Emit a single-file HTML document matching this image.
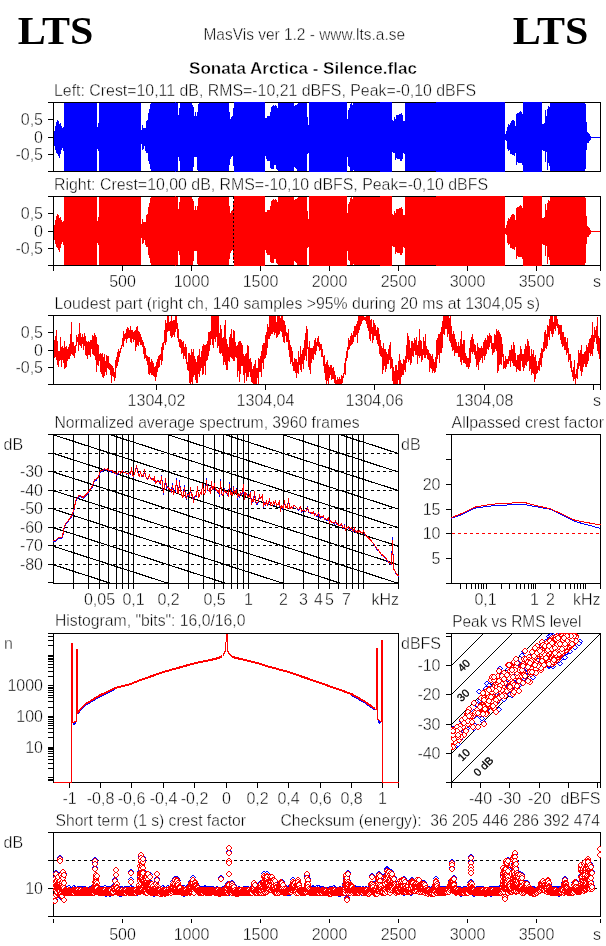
<!DOCTYPE html>
<html lang="en">
<head>
<meta charset="utf-8">
<title>MasVis ver 1.2 - Sonata Arctica - Silence.flac</title>
<style>
html,body{margin:0;padding:0;background:#fff;}
body{width:606px;height:946px;overflow:hidden;}
svg{display:block;font-family:"Liberation Sans",sans-serif;font-size:16px;fill:#000;}
svg text{white-space:pre;stroke:#fff;stroke-width:0.4px;paint-order:fill stroke;}
svg text.k{stroke:none;}
svg text.r{stroke:#000;stroke-width:0.3px;}
</style>
</head>
<body>
<svg width="606" height="946" viewBox="0 0 606 946" shape-rendering="crispEdges">
<rect x="0" y="0" width="606" height="946" fill="#fff"/>
<text x="17.8" y="44" font-size="41" font-weight="bold" font-family='"Liberation Serif", serif' textLength="75.5" lengthAdjust="spacingAndGlyphs" class="k">LTS</text>
<text x="512.8" y="44" font-size="41" font-weight="bold" font-family='"Liberation Serif", serif' textLength="75.5" lengthAdjust="spacingAndGlyphs" class="k">LTS</text>
<text x="203.5" y="40" textLength="201.5" lengthAdjust="spacingAndGlyphs">MasVis ver 1.2 - www.lts.a.se</text>
<text x="189" y="74" font-size="17" font-weight="bold" textLength="228" lengthAdjust="spacingAndGlyphs">Sonata Arctica - Silence.flac</text>
<g id="left-channel">
<text x="54" y="96" textLength="422" lengthAdjust="spacingAndGlyphs">Left: Crest=10,11 dB, RMS=-10,21 dBFS, Peak=-0,10 dBFS</text>
<g id="axes102">
<rect x="53" y="102" width="548" height="1" fill="#000"/>
<rect x="53" y="171" width="548" height="1" fill="#000"/>
<rect x="53" y="102" width="1" height="70" fill="#000"/>
<rect x="600" y="102" width="1" height="70" fill="#000"/>
<rect x="48" y="102" width="5" height="1" fill="#000"/>
<rect x="48" y="119" width="5" height="1" fill="#000"/>
<rect x="48" y="137" width="5" height="1" fill="#000"/>
<rect x="48" y="154" width="5" height="1" fill="#000"/>
<rect x="48" y="171" width="5" height="1" fill="#000"/>
<text x="43" y="125" text-anchor="end">0,5</text>
<text x="43" y="143" text-anchor="end">0</text>
<text x="43" y="160" text-anchor="end">-0,5</text>
</g>
<path d="M54 131h1v15h-1zM55 126h1v24h-1zM56 122h1v31h-1zM57 120h1v34h-1zM58 121h1v35h-1zM59 124h1v34h-1zM60 123h1v31h-1zM61 126h1v24h-1zM62 128h1v20h-1zM63 127h1v24h-1zM64 103h33v68h-33zM97 127h1v22h-1zM98 123h1v28h-1zM99 103h42v68h-42zM141 130h1v14h-1zM142 125h1v25h-1zM143 128h1v21h-1zM144 128h1v18h-1zM145 128h1v23h-1zM146 121h1v32h-1zM147 120h1v33h-1zM148 113h1v48h-1zM149 109h1v55h-1zM150 104h1v65h-1zM151 103h24v68h-24zM175 102h1v70h-1zM176 103h2v68h-2zM178 115h1v42h-1zM179 108h1v53h-1zM180 103h12v68h-12zM192 105h1v66h-1zM193 107h1v60h-1zM194 116h1v41h-1zM195 112h1v45h-1zM196 116h1v41h-1zM197 112h1v58h-1zM198 104h1v67h-1zM199 103h30v68h-30zM229 112h1v53h-1zM230 119h1v40h-1zM231 117h1v40h-1zM232 116h1v40h-1zM233 108h1v58h-1zM234 102h31v70h-31zM265 118h1v38h-1zM266 118h1v41h-1zM267 116h3v45h-3zM270 112h1v56h-1zM271 107h1v62h-1zM272 106h1v63h-1zM273 105h1v64h-1zM274 106h1v59h-1zM275 105h1v60h-1zM276 106h1v63h-1zM277 108h1v62h-1zM278 103h16v68h-16zM294 106h1v61h-1zM295 105h1v63h-1zM296 105h1v64h-1zM297 104h1v67h-1zM298 103h9v68h-9zM307 117h1v37h-1zM308 125h1v28h-1zM309 102h38v70h-38zM347 119h1v38h-1zM348 110h1v56h-1zM349 108h1v59h-1zM350 104h1v67h-1zM351 103h1v68h-1zM352 105h1v66h-1zM353 103h1v67h-1zM354 103h26v68h-26zM380 102h12v70h-12zM392 120h1v32h-1zM393 121h1v32h-1zM394 117h1v36h-1zM395 119h1v41h-1zM396 115h1v43h-1zM397 115h2v44h-2zM399 114h1v45h-1zM400 114h1v47h-1zM401 113h1v48h-1zM402 115h1v44h-1zM403 121h1v32h-1zM404 121h1v33h-1zM405 103h31v68h-31zM436 102h69v70h-69zM505 134h1v6h-1zM506 131h1v10h-1zM507 127h1v22h-1zM508 124h1v27h-1zM509 125h1v25h-1zM510 123h1v31h-1zM511 121h1v33h-1zM512 120h2v35h-2zM514 121h1v35h-1zM515 126h1v27h-1zM516 114h1v51h-1zM517 113h1v49h-1zM518 113h1v50h-1zM519 112h1v51h-1zM520 111h1v52h-1zM521 112h1v51h-1zM522 114h1v51h-1zM523 102h19v70h-19zM542 124h1v26h-1zM543 124h1v27h-1zM544 123h1v28h-1zM545 110h1v52h-1zM546 116h1v36h-1zM547 109h1v61h-1zM548 106h1v57h-1zM549 107h1v59h-1zM550 103h35v68h-35zM585 104h1v65h-1zM586 122h1v28h-1zM587 132h1v11h-1zM588 133h1v10h-1zM589 134h1v7h-1zM590 136h1v4h-1zM591 137h9v1h-9z" fill="#0000ff"/>
</g>
<g id="right-channel">
<text x="54" y="190" textLength="434" lengthAdjust="spacingAndGlyphs">Right: Crest=10,00 dB, RMS=-10,10 dBFS, Peak=-0,10 dBFS</text>
<g id="axes196">
<rect x="53" y="196" width="548" height="1" fill="#000"/>
<rect x="53" y="265" width="548" height="1" fill="#000"/>
<rect x="53" y="196" width="1" height="70" fill="#000"/>
<rect x="600" y="196" width="1" height="70" fill="#000"/>
<rect x="48" y="196" width="5" height="1" fill="#000"/>
<rect x="48" y="213" width="5" height="1" fill="#000"/>
<rect x="48" y="231" width="5" height="1" fill="#000"/>
<rect x="48" y="248" width="5" height="1" fill="#000"/>
<rect x="48" y="265" width="5" height="1" fill="#000"/>
<text x="43" y="219" text-anchor="end">0,5</text>
<text x="43" y="237" text-anchor="end">0</text>
<text x="43" y="254" text-anchor="end">-0,5</text>
</g>
<path d="M54 225h1v15h-1zM55 220h1v24h-1zM56 216h1v31h-1zM57 214h1v34h-1zM58 215h1v35h-1zM59 218h1v34h-1zM60 217h1v31h-1zM61 220h1v24h-1zM62 222h1v20h-1zM63 221h1v24h-1zM64 197h33v68h-33zM97 221h1v22h-1zM98 217h1v28h-1zM99 197h42v68h-42zM141 224h1v14h-1zM142 219h1v25h-1zM143 222h1v21h-1zM144 222h1v18h-1zM145 222h1v23h-1zM146 215h1v32h-1zM147 214h1v33h-1zM148 207h1v48h-1zM149 203h1v55h-1zM150 198h1v65h-1zM151 197h24v68h-24zM175 196h1v70h-1zM176 197h2v68h-2zM178 209h1v42h-1zM179 202h1v53h-1zM180 197h12v68h-12zM192 199h1v66h-1zM193 201h1v60h-1zM194 210h1v41h-1zM195 206h1v45h-1zM196 210h1v41h-1zM197 206h1v58h-1zM198 198h1v67h-1zM199 197h30v68h-30zM229 206h1v53h-1zM230 213h1v40h-1zM231 211h1v40h-1zM232 210h1v40h-1zM233 202h1v58h-1zM234 196h31v70h-31zM265 212h1v38h-1zM266 212h1v41h-1zM267 210h3v45h-3zM270 206h1v56h-1zM271 201h1v62h-1zM272 200h1v63h-1zM273 199h1v64h-1zM274 200h1v59h-1zM275 199h1v60h-1zM276 200h1v63h-1zM277 202h1v62h-1zM278 197h16v68h-16zM294 200h1v61h-1zM295 199h1v63h-1zM296 199h1v64h-1zM297 198h1v67h-1zM298 197h9v68h-9zM307 211h1v37h-1zM308 219h1v28h-1zM309 196h38v70h-38zM347 213h1v38h-1zM348 204h1v56h-1zM349 202h1v59h-1zM350 198h1v67h-1zM351 197h1v68h-1zM352 199h1v66h-1zM353 197h1v67h-1zM354 197h26v68h-26zM380 196h12v70h-12zM392 214h1v32h-1zM393 215h1v32h-1zM394 211h1v36h-1zM395 213h1v41h-1zM396 209h1v43h-1zM397 209h2v44h-2zM399 208h1v45h-1zM400 208h1v47h-1zM401 207h1v48h-1zM402 209h1v44h-1zM403 215h1v32h-1zM404 215h1v33h-1zM405 197h31v68h-31zM436 196h69v70h-69zM505 228h1v6h-1zM506 225h1v10h-1zM507 221h1v22h-1zM508 218h1v27h-1zM509 219h1v25h-1zM510 217h1v31h-1zM511 215h1v33h-1zM512 214h2v35h-2zM514 215h1v35h-1zM515 220h1v27h-1zM516 208h1v51h-1zM517 207h1v49h-1zM518 207h1v50h-1zM519 206h1v51h-1zM520 205h1v52h-1zM521 206h1v51h-1zM522 208h1v51h-1zM523 196h19v70h-19zM542 218h1v26h-1zM543 218h1v27h-1zM544 217h1v28h-1zM545 204h1v52h-1zM546 210h1v36h-1zM547 203h1v61h-1zM548 200h1v57h-1zM549 201h1v59h-1zM550 197h35v68h-35zM585 198h1v65h-1zM586 216h1v28h-1zM587 226h1v11h-1zM588 227h1v10h-1zM589 228h1v7h-1zM590 230h1v4h-1zM591 231h9v1h-9z" fill="#ff0000"/>
<path d="M233.5 197V265" stroke="#000" stroke-width="1" stroke-dasharray="2 2" fill="none"/>
<rect x="53" y="266" width="1" height="5" fill="#000"/>
<rect x="122" y="266" width="1" height="5" fill="#000"/>
<text x="122.5" y="287" text-anchor="middle">500</text>
<rect x="191" y="266" width="1" height="5" fill="#000"/>
<text x="191.5" y="287" text-anchor="middle">1000</text>
<rect x="260" y="266" width="1" height="5" fill="#000"/>
<text x="260.5" y="287" text-anchor="middle">1500</text>
<rect x="329" y="266" width="1" height="5" fill="#000"/>
<text x="329.5" y="287" text-anchor="middle">2000</text>
<rect x="398" y="266" width="1" height="5" fill="#000"/>
<text x="398.5" y="287" text-anchor="middle">2500</text>
<rect x="467" y="266" width="1" height="5" fill="#000"/>
<text x="467.5" y="287" text-anchor="middle">3000</text>
<rect x="536" y="266" width="1" height="5" fill="#000"/>
<text x="536.5" y="287" text-anchor="middle">3500</text>
<rect x="600" y="266" width="1" height="5" fill="#000"/>
<text x="601" y="287" text-anchor="end">s</text>
</g>
<g id="loudest-part">
<text x="54.5" y="308.7" textLength="485.5" lengthAdjust="spacingAndGlyphs">Loudest part (right ch, 140 samples &gt;95% during 20 ms at 1304,05 s)</text>
<rect x="53" y="315" width="548" height="1" fill="#000"/>
<rect x="53" y="384" width="548" height="1" fill="#000"/>
<rect x="53" y="315" width="1" height="70" fill="#000"/>
<rect x="600" y="315" width="1" height="70" fill="#000"/>
<rect x="48" y="315" width="5" height="1" fill="#000"/>
<rect x="48" y="332" width="5" height="1" fill="#000"/>
<rect x="48" y="350" width="5" height="1" fill="#000"/>
<rect x="48" y="367" width="5" height="1" fill="#000"/>
<rect x="48" y="384" width="5" height="1" fill="#000"/>
<text x="43" y="338" text-anchor="end">0,5</text>
<text x="43" y="356" text-anchor="end">0</text>
<text x="43" y="373" text-anchor="end">-0,5</text>
<rect x="156" y="385" width="1" height="5" fill="#000"/>
<text x="156.5" y="406" text-anchor="middle">1304,02</text>
<rect x="265" y="385" width="1" height="5" fill="#000"/>
<text x="265.5" y="406" text-anchor="middle">1304,04</text>
<rect x="374" y="385" width="1" height="5" fill="#000"/>
<text x="374.5" y="406" text-anchor="middle">1304,06</text>
<rect x="484" y="385" width="1" height="5" fill="#000"/>
<text x="484.5" y="406" text-anchor="middle">1304,08</text>
<rect x="593" y="385" width="1" height="5" fill="#000"/>
<rect x="600" y="385" width="1" height="5" fill="#000"/>
<text x="601" y="406" text-anchor="end">s</text>
<path d="M54 340v18h1v-18zM55 336v21h1v-21zM56 330v30h1v-30zM57 341v24h1v-24zM58 351v16h1v-16zM59 351v10h1v-10zM60 337v23h1v-23zM61 347v20h1v-20zM62 346v14h1v-14zM63 348v15h1v-15zM64 341v28h1v-28zM65 347v21h1v-21zM66 346v21h1v-21zM67 349v12h1v-12zM68 347v12h1v-12zM69 344v15h1v-15zM70 334v22h1v-22zM71 322v32h1v-32zM72 342v13h1v-13zM73 342v14h1v-14zM74 346v12h1v-12zM75 345v8h1v-8zM76 335v11h1v-11zM77 337v5h1v-5zM78 334v17h1v-17zM79 323v22h1v-22zM80 333v13h1v-13zM81 337v11h1v-11zM82 334v10h1v-10zM83 337v13h1v-13zM84 333v13h1v-13zM85 336v19h1v-19zM86 341v15h1v-15zM87 342v17h1v-17zM88 341v14h1v-14zM89 342v13h1v-13zM90 340v17h1v-17zM91 340v9h1v-9zM92 335v19h1v-19zM93 336v19h1v-19zM94 333v23h1v-23zM95 335v25h1v-25zM96 337v35h1v-35zM97 344v21h1v-21zM98 345v21h1v-21zM99 354v7h1v-7zM100 353v19h1v-19zM101 354v20h1v-20zM102 353v24h1v-24zM103 357v21h1v-21zM104 354v22h1v-22zM105 361v11h1v-11zM106 355v20h1v-20zM107 356v12h1v-12zM108 356v13h1v-13zM109 363v7h1v-7zM110 364v11h1v-11zM111 365v18h1v-18zM112 366v10h1v-10zM113 368v9h1v-9zM114 372v9h1v-9zM115 360v18h1v-18zM116 357v11h1v-11zM117 352v14h1v-14zM118 349v13h1v-13zM119 351v6h1v-6zM120 348v5h1v-5zM121 345v4h1v-4zM122 338v8h1v-8zM123 331v16h1v-16zM124 334v7h1v-7zM125 333v6h1v-6zM126 329v14h1v-14zM127 327v12h1v-12zM128 328v10h1v-10zM129 330v8h1v-8zM130 326v16h1v-16zM131 330v13h1v-13zM132 330v9h1v-9zM133 332v10h1v-10zM134 331v9h1v-9zM135 330v21h1v-21zM136 327v20h1v-20zM137 326v19h1v-19zM138 331v15h1v-15zM139 332v10h1v-10zM140 334v11h1v-11zM141 337v8h1v-8zM142 340v7h1v-7zM143 342v12h1v-12zM144 346v13h1v-13zM145 348v10h1v-10zM146 355v6h1v-6zM147 356v9h1v-9zM148 357v17h1v-17zM149 357v18h1v-18zM150 362v11h1v-11zM151 359v16h1v-16zM152 361v14h1v-14zM153 363v13h1v-13zM154 367v10h1v-10zM155 366v15h1v-15zM156 362v15h1v-15zM157 359v13h1v-13zM158 356v12h1v-12zM159 355v12h1v-12zM160 354v6h1v-6zM161 347v18h1v-18zM162 343v18h1v-18zM163 342v8h1v-8zM164 330v13h1v-13zM165 320v25h1v-25zM166 323v19h1v-19zM167 316v16h1v-16zM168 316v15h1v-15zM169 322v9h1v-9zM170 321v15h1v-15zM171 316v22h1v-22zM172 321v16h1v-16zM173 320v15h1v-15zM174 320v17h1v-17zM175 316v16h1v-16zM176 316v13h1v-13zM177 323v15h1v-15zM178 329v13h1v-13zM179 339v8h1v-8zM180 339v9h1v-9zM181 340v14h1v-14zM182 342v11h1v-11zM183 341v18h1v-18zM184 347v9h1v-9zM185 344v15h1v-15zM186 347v17h1v-17zM187 362v8h1v-8zM188 353v18h1v-18zM189 353v30h1v-30zM190 355v29h1v-29zM191 349v33h1v-33zM192 352v32h1v-32zM193 349v28h1v-28zM194 356v19h1v-19zM195 359v21h1v-21zM196 362v21h1v-21zM197 356v27h1v-27zM198 355v19h1v-19zM199 349v28h1v-28zM200 357v14h1v-14zM201 351v17h1v-17zM202 346v29h1v-29zM203 344v30h1v-30zM204 345v21h1v-21zM205 345v30h1v-30zM206 344v17h1v-17zM207 341v19h1v-19zM208 332v24h1v-24zM209 332v19h1v-19zM210 331v14h1v-14zM211 316v23h1v-23zM212 316v29h1v-29zM213 316v32h1v-32zM214 316v23h1v-23zM215 316v26h1v-26zM216 316v21h1v-21zM217 316v32h1v-32zM218 316v30h1v-30zM219 333v20h1v-20zM220 325v29h1v-29zM221 329v24h1v-24zM222 338v18h1v-18zM223 337v28h1v-28zM224 325v37h1v-37zM225 320v45h1v-45zM226 339v31h1v-31zM227 344v26h1v-26zM228 347v14h1v-14zM229 337v25h1v-25zM230 334v23h1v-23zM231 329v29h1v-29zM232 338v21h1v-21zM233 330v31h1v-31zM234 331v30h1v-30zM235 342v15h1v-15zM236 346v12h1v-12zM237 345v32h1v-32zM238 342v29h1v-29zM239 341v41h1v-41zM240 341v33h1v-33zM241 343v23h1v-23zM242 345v21h1v-21zM243 354v21h1v-21zM244 356v27h1v-27zM245 354v19h1v-19zM246 353v28h1v-28zM247 345v32h1v-32zM248 346v31h1v-31zM249 359v13h1v-13zM250 358v19h1v-19zM251 362v20h1v-20zM252 369v14h1v-14zM253 366v18h1v-18zM254 364v20h1v-20zM255 360v24h1v-24zM256 368v16h1v-16zM257 368v10h1v-10zM258 358v26h1v-26zM259 359v13h1v-13zM260 356v16h1v-16zM261 351v26h1v-26zM262 345v18h1v-18zM263 343v26h1v-26zM264 343v16h1v-16zM265 335v23h1v-23zM266 332v23h1v-23zM267 324v24h1v-24zM268 327v12h1v-12zM269 316v23h1v-23zM270 316v20h1v-20zM271 316v18h1v-18zM272 316v18h1v-18zM273 316v16h1v-16zM274 316v19h1v-19zM275 316v17h1v-17zM276 322v16h1v-16zM277 316v21h1v-21zM278 316v19h1v-19zM279 316v18h1v-18zM280 318v13h1v-13zM281 316v16h1v-16zM282 316v21h1v-21zM283 320v22h1v-22zM284 321v22h1v-22zM285 325v11h1v-11zM286 332v10h1v-10zM287 333v9h1v-9zM288 329v21h1v-21zM289 340v17h1v-17zM290 345v19h1v-19zM291 347v15h1v-15zM292 351v15h1v-15zM293 362v9h1v-9zM294 358v13h1v-13zM295 359v14h1v-14zM296 359v19h1v-19zM297 362v11h1v-11zM298 351v23h1v-23zM299 357v8h1v-8zM300 346v24h1v-24zM301 354v18h1v-18zM302 350v14h1v-14zM303 348v21h1v-21zM304 340v20h1v-20zM305 333v23h1v-23zM306 326v35h1v-35zM307 329v20h1v-20zM308 347v20h1v-20zM309 341v29h1v-29zM310 348v26h1v-26zM311 348v15h1v-15zM312 348v11h1v-11zM313 346v14h1v-14zM314 340v14h1v-14zM315 338v17h1v-17zM316 342v9h1v-9zM317 338v8h1v-8zM318 336v11h1v-11zM319 342v9h1v-9zM320 344v6h1v-6zM321 344v13h1v-13zM322 349v8h1v-8zM323 356v10h1v-10zM324 355v18h1v-18zM325 364v16h1v-16zM326 362v22h1v-22zM327 360v21h1v-21zM328 365v19h1v-19zM329 367v11h1v-11zM330 365v10h1v-10zM331 365v15h1v-15zM332 368v11h1v-11zM333 367v12h1v-12zM334 371v12h1v-12zM335 375v9h1v-9zM336 380v4h1v-4zM337 377v7h1v-7zM338 379v5h1v-5zM339 377v7h1v-7zM340 379v5h1v-5zM341 375v9h1v-9zM342 376v7h1v-7zM343 373v5h1v-5zM344 363v11h1v-11zM345 358v17h1v-17zM346 351v10h1v-10zM347 347v11h1v-11zM348 338v12h1v-12zM349 340v9h1v-9zM350 336v10h1v-10zM351 333v12h1v-12zM352 335v9h1v-9zM353 331v11h1v-11zM354 326v11h1v-11zM355 326v11h1v-11zM356 324v11h1v-11zM357 321v22h1v-22zM358 316v17h1v-17zM359 316v14h1v-14zM360 316v10h1v-10zM361 316v8h1v-8zM362 316v5h1v-5zM363 316v4h1v-4zM364 317v3h1v-3zM365 317v4h1v-4zM366 316v8h1v-8zM367 316v12h1v-12zM368 316v15h1v-15zM369 316v23h1v-23zM370 320v21h1v-21zM371 319v15h1v-15zM372 327v16h1v-16zM373 320v20h1v-20zM374 323v13h1v-13zM375 325v11h1v-11zM376 330v10h1v-10zM377 327v17h1v-17zM378 328v18h1v-18zM379 334v20h1v-20zM380 340v16h1v-16zM381 346v11h1v-11zM382 348v26h1v-26zM383 343v27h1v-27zM384 349v17h1v-17zM385 349v23h1v-23zM386 352v17h1v-17zM387 354v10h1v-10zM388 349v15h1v-15zM389 345v15h1v-15zM390 342v27h1v-27zM391 357v11h1v-11zM392 359v22h1v-22zM393 367v17h1v-17zM394 371v13h1v-13zM395 365v19h1v-19zM396 365v19h1v-19zM397 370v14h1v-14zM398 361v19h1v-19zM399 354v30h1v-30zM400 360v24h1v-24zM401 363v14h1v-14zM402 364v11h1v-11zM403 359v16h1v-16zM404 360v10h1v-10zM405 356v16h1v-16zM406 345v18h1v-18zM407 333v26h1v-26zM408 336v26h1v-26zM409 340v20h1v-20zM410 348v17h1v-17zM411 341v22h1v-22zM412 341v15h1v-15zM413 343v14h1v-14zM414 338v13h1v-13zM415 340v15h1v-15zM416 337v18h1v-18zM417 345v19h1v-19zM418 341v15h1v-15zM419 329v29h1v-29zM420 340v16h1v-16zM421 341v21h1v-21zM422 349v11h1v-11zM423 337v18h1v-18zM424 341v17h1v-17zM425 334v24h1v-24zM426 346v9h1v-9zM427 349v10h1v-10zM428 350v10h1v-10zM429 353v19h1v-19zM430 354v14h1v-14zM431 356v13h1v-13zM432 354v19h1v-19zM433 359v12h1v-12zM434 362v11h1v-11zM435 357v15h1v-15zM436 340v28h1v-28zM437 338v21h1v-21zM438 334v21h1v-21zM439 334v29h1v-29zM440 332v21h1v-21zM441 327v26h1v-26zM442 321v27h1v-27zM443 316v18h1v-18zM444 316v19h1v-19zM445 316v13h1v-13zM446 316v13h1v-13zM447 316v21h1v-21zM448 316v18h1v-18zM449 318v23h1v-23zM450 316v27h1v-27zM451 326v21h1v-21zM452 334v17h1v-17zM453 331v19h1v-19zM454 334v22h1v-22zM455 339v14h1v-14zM456 342v11h1v-11zM457 346v7h1v-7zM458 342v15h1v-15zM459 346v11h1v-11zM460 339v23h1v-23zM461 331v34h1v-34zM462 344v16h1v-16zM463 340v23h1v-23zM464 340v23h1v-23zM465 353v11h1v-11zM466 356v11h1v-11zM467 358v9h1v-9zM468 358v11h1v-11zM469 348v19h1v-19zM470 340v23h1v-23zM471 337v15h1v-15zM472 334v20h1v-20zM473 339v13h1v-13zM474 344v11h1v-11zM475 345v14h1v-14zM476 351v16h1v-16zM477 343v22h1v-22zM478 347v23h1v-23zM479 348v14h1v-14zM480 348v12h1v-12zM481 346v12h1v-12zM482 348v15h1v-15zM483 342v14h1v-14zM484 340v20h1v-20zM485 338v18h1v-18zM486 340v14h1v-14zM487 335v14h1v-14zM488 336v14h1v-14zM489 333v14h1v-14zM490 335v8h1v-8zM491 336v13h1v-13zM492 343v12h1v-12zM493 343v10h1v-10zM494 334v18h1v-18zM495 335v14h1v-14zM496 329v22h1v-22zM497 331v42h1v-42zM498 330v41h1v-41zM499 332v33h1v-33zM500 334v30h1v-30zM501 337v28h1v-28zM502 344v13h1v-13zM503 354v15h1v-15zM504 361v7h1v-7zM505 356v13h1v-13zM506 359v8h1v-8zM507 359v5h1v-5zM508 356v8h1v-8zM509 350v11h1v-11zM510 350v17h1v-17zM511 345v16h1v-16zM512 349v14h1v-14zM513 342v24h1v-24zM514 345v21h1v-21zM515 353v14h1v-14zM516 360v12h1v-12zM517 355v14h1v-14zM518 355v15h1v-15zM519 354v17h1v-17zM520 346v25h1v-25zM521 349v12h1v-12zM522 354v13h1v-13zM523 354v17h1v-17zM524 349v19h1v-19zM525 344v21h1v-21zM526 346v20h1v-20zM527 339v23h1v-23zM528 341v20h1v-20zM529 346v25h1v-25zM530 356v13h1v-13zM531 349v26h1v-26zM532 354v19h1v-19zM533 350v24h1v-24zM534 357v25h1v-25zM535 355v24h1v-24zM536 361v13h1v-13zM537 366v7h1v-7zM538 361v9h1v-9zM539 358v13h1v-13zM540 353v12h1v-12zM541 348v19h1v-19zM542 349v9h1v-9zM543 342v10h1v-10zM544 332v19h1v-19zM545 330v18h1v-18zM546 334v15h1v-15zM547 325v21h1v-21zM548 326v11h1v-11zM549 319v21h1v-21zM550 316v15h1v-15zM551 316v18h1v-18zM552 316v21h1v-21zM553 322v12h1v-12zM554 316v13h1v-13zM555 316v15h1v-15zM556 316v10h1v-10zM557 319v9h1v-9zM558 324v11h1v-11zM559 325v9h1v-9zM560 325v15h1v-15zM561 325v19h1v-19zM562 332v15h1v-15zM563 332v14h1v-14zM564 337v13h1v-13zM565 337v13h1v-13zM566 342v13h1v-13zM567 338v15h1v-15zM568 348v14h1v-14zM569 354v6h1v-6zM570 354v14h1v-14zM571 361v11h1v-11zM572 370v7h1v-7zM573 367v14h1v-14zM574 360v19h1v-19zM575 374v10h1v-10zM576 369v9h1v-9zM577 363v16h1v-16zM578 350v19h1v-19zM579 353v13h1v-13zM580 350v21h1v-21zM581 345v31h1v-31zM582 354v18h1v-18zM583 354v13h1v-13zM584 352v12h1v-12zM585 351v16h1v-16zM586 345v22h1v-22zM587 347v17h1v-17zM588 343v18h1v-18zM589 339v14h1v-14zM590 338v18h1v-18zM591 335v19h1v-19zM592 322v34h1v-34zM593 335v14h1v-14zM594 327v15h1v-15zM595 330v8h1v-8zM596 326v18h1v-18zM597 317v34h1v-34zM598 336v18h1v-18zM599 338v21h1v-21z" fill="#ff0000"/>
</g>
<g id="spectrum">
<text x="54.5" y="427.5" textLength="305" lengthAdjust="spacingAndGlyphs">Normalized average spectrum, 3960 frames</text>
<text x="3.5" y="450">dB</text>
<clipPath id="c4a"><rect x="53" y="434" width="346" height="150"/></clipPath>
<g clip-path="url(#c4a)" stroke="#000" stroke-width="1" fill="none">
<path d="M53.5 286.40L398.5 397.80M53.5 304.97L398.5 416.37M53.5 323.53L398.5 434.93M53.5 342.09L398.5 453.49M53.5 360.65L398.5 472.05M53.5 379.21L398.5 490.61M53.5 397.78L398.5 509.18M53.5 416.34L398.5 527.74M53.5 434.90L398.5 546.30M53.5 453.46L398.5 564.86M53.5 472.02L398.5 583.42M53.5 490.59L398.5 601.99M53.5 509.15L398.5 620.55M53.5 527.71L398.5 639.11M53.5 546.27L398.5 657.67M53.5 564.83L398.5 676.23M53.5 583.40L398.5 694.80" stroke-width="1.15"/>
<path d="M53 453.5H398M53 471.5H398M53 490.5H398M53 508.5H398M53 527.5H398M53 545.5H398M53 564.5H398" stroke-dasharray="3 3"/>
</g>
<rect x="73" y="434" width="1" height="155" fill="#000"/>
<rect x="88" y="434" width="1" height="155" fill="#000"/>
<rect x="99" y="434" width="1" height="155" fill="#000"/>
<rect x="108" y="434" width="1" height="155" fill="#000"/>
<rect x="116" y="434" width="1" height="155" fill="#000"/>
<rect x="122" y="434" width="1" height="155" fill="#000"/>
<rect x="128" y="434" width="1" height="155" fill="#000"/>
<rect x="133" y="434" width="1" height="155" fill="#000"/>
<rect x="168" y="434" width="1" height="155" fill="#000"/>
<rect x="188" y="434" width="1" height="155" fill="#000"/>
<rect x="203" y="434" width="1" height="155" fill="#000"/>
<rect x="214" y="434" width="1" height="155" fill="#000"/>
<rect x="223" y="434" width="1" height="155" fill="#000"/>
<rect x="231" y="434" width="1" height="155" fill="#000"/>
<rect x="237" y="434" width="1" height="155" fill="#000"/>
<rect x="243" y="434" width="1" height="155" fill="#000"/>
<rect x="248" y="434" width="1" height="155" fill="#000"/>
<rect x="283" y="434" width="1" height="155" fill="#000"/>
<rect x="303" y="434" width="1" height="155" fill="#000"/>
<rect x="318" y="434" width="1" height="155" fill="#000"/>
<rect x="329" y="434" width="1" height="155" fill="#000"/>
<rect x="338" y="434" width="1" height="155" fill="#000"/>
<rect x="346" y="434" width="1" height="155" fill="#000"/>
<rect x="352" y="434" width="1" height="155" fill="#000"/>
<rect x="358" y="434" width="1" height="155" fill="#000"/>
<rect x="363" y="434" width="1" height="155" fill="#000"/>
<rect x="53" y="434" width="346" height="1" fill="#000"/>
<rect x="53" y="583" width="346" height="1" fill="#000"/>
<rect x="53" y="434" width="1" height="150" fill="#000"/>
<rect x="398" y="434" width="1" height="150" fill="#000"/>
<rect x="398" y="583" width="1" height="6" fill="#000"/>
<rect x="48" y="434" width="5" height="1" fill="#000"/>
<rect x="48" y="453" width="5" height="1" fill="#000"/>
<rect x="48" y="471" width="5" height="1" fill="#000"/>
<rect x="48" y="490" width="5" height="1" fill="#000"/>
<rect x="48" y="508" width="5" height="1" fill="#000"/>
<rect x="48" y="527" width="5" height="1" fill="#000"/>
<rect x="48" y="545" width="5" height="1" fill="#000"/>
<rect x="48" y="564" width="5" height="1" fill="#000"/>
<rect x="48" y="582" width="5" height="1" fill="#000"/>
<text x="43" y="477" text-anchor="end">-30</text>
<text x="43" y="496" text-anchor="end">-40</text>
<text x="43" y="514" text-anchor="end">-50</text>
<text x="43" y="533" text-anchor="end">-60</text>
<text x="43" y="551" text-anchor="end">-70</text>
<text x="43" y="570" text-anchor="end">-80</text>
<text x="99.5" y="605" text-anchor="middle">0,05</text>
<text x="133.5" y="605" text-anchor="middle">0,1</text>
<text x="168.5" y="605" text-anchor="middle">0,2</text>
<text x="214.5" y="605" text-anchor="middle">0,5</text>
<text x="248.5" y="605" text-anchor="middle">1</text>
<text x="283.5" y="605" text-anchor="middle">2</text>
<text x="303.5" y="605" text-anchor="middle">3</text>
<text x="318.5" y="605" text-anchor="middle">4</text>
<text x="329.5" y="605" text-anchor="middle">5</text>
<text x="346.5" y="605" text-anchor="middle">7</text>
<text x="399" y="605" text-anchor="end">kHz</text>
<g clip-path="url(#c4a)" fill="none" stroke-width="1" stroke-linejoin="round">
<path d="M53.5 541.8L54.5 541.5L55.5 541.2L56.5 540.5L57.5 539.2L58.5 538.6L59.5 538.9L60.5 538.8L61.5 538.4L62.5 537.3L63.5 531.9L64.5 526.9L65.5 525.4L66.5 523.1L67.5 522.4L68.5 520.9L69.5 519.6L70.5 517.9L71.5 516.8L72.5 515.0L73.5 511.9L74.5 507.7L75.5 503.0L76.5 498.6L77.5 498.4L78.5 497.1L79.5 495.7L80.5 496.6L81.5 497.1L82.5 497.7L83.5 498.4L84.5 496.7L85.5 496.1L86.5 494.8L87.5 494.3L88.5 492.9L89.5 491.2L90.5 489.5L91.5 488.3L92.5 486.6L93.5 483.4L94.5 480.9L95.5 481.0L96.5 479.7L97.5 478.6L98.5 477.8L99.5 474.5L100.5 471.2L101.5 471.1L102.5 471.2L103.5 469.9L104.5 469.8L105.5 469.3L106.5 470.4L107.5 469.2L108.5 471.3L109.5 470.7L110.5 471.6L111.5 472.3L112.5 470.9L113.5 472.0L114.5 473.2L115.5 472.4L116.5 475.5L117.5 474.2L118.5 472.7L119.5 471.5L120.5 472.8L121.5 471.7L122.5 470.6L123.5 472.1L124.5 472.7L125.5 472.2L126.5 474.1L127.5 473.6L128.5 473.8L129.5 472.3L130.5 474.5L131.5 467.8L132.5 475.2L133.5 477.4L134.5 473.3L135.5 471.2L136.5 467.0L137.5 469.8L138.5 473.6L139.5 476.9L140.5 471.7L141.5 476.4L142.5 476.6L143.5 476.0L144.5 471.1L145.5 476.4L146.5 477.9L147.5 479.0L148.5 476.8L149.5 475.9L150.5 478.4L151.5 479.0L152.5 479.2L153.5 480.8L154.5 480.0L155.5 483.7L156.5 482.2L157.5 480.2L158.5 480.8L159.5 482.9L160.5 484.8L161.5 475.6L162.5 484.3L163.5 494.3L164.5 486.7L165.5 482.6L166.5 488.1L167.5 486.5L168.5 488.2L169.5 488.8L170.5 491.3L171.5 491.6L172.5 483.2L173.5 493.3L174.5 492.5L175.5 490.8L176.5 478.7L177.5 491.5L178.5 493.3L179.5 481.0L180.5 490.1L181.5 493.4L182.5 497.1L183.5 493.9L184.5 485.2L185.5 496.1L186.5 499.5L187.5 493.9L188.5 495.6L189.5 495.3L190.5 491.4L191.5 494.3L192.5 495.8L193.5 499.0L194.5 497.4L195.5 496.2L196.5 496.6L197.5 487.1L198.5 496.7L199.5 495.7L200.5 492.5L201.5 494.0L202.5 483.4L203.5 492.7L204.5 493.8L205.5 492.0L206.5 478.1L207.5 490.1L208.5 490.7L209.5 490.3L210.5 492.0L211.5 482.2L212.5 489.1L213.5 489.2L214.5 483.3L215.5 490.3L216.5 489.5L217.5 492.2L218.5 490.6L219.5 496.3L220.5 479.4L221.5 493.0L222.5 496.0L223.5 493.2L224.5 488.5L225.5 492.9L226.5 492.7L227.5 495.2L228.5 496.8L229.5 482.3L230.5 494.0L231.5 493.2L232.5 495.7L233.5 486.4L234.5 493.9L235.5 491.7L236.5 488.7L237.5 499.2L238.5 494.2L239.5 497.1L240.5 492.8L241.5 494.1L242.5 492.7L243.5 488.8L244.5 498.7L245.5 493.4L246.5 494.0L247.5 494.8L248.5 496.6L249.5 496.9L250.5 491.6L251.5 504.2L252.5 501.3L253.5 500.1L254.5 494.8L255.5 500.5L256.5 504.3L257.5 504.5L258.5 501.8L259.5 496.9L260.5 498.6L261.5 497.2L262.5 495.7L263.5 507.1L264.5 502.6L265.5 505.5L266.5 500.5L267.5 506.0L268.5 503.5L269.5 500.3L270.5 505.2L271.5 502.1L272.5 505.5L273.5 502.2L274.5 505.2L275.5 501.2L276.5 504.9L277.5 504.5L278.5 504.6L279.5 503.3L280.5 511.3L281.5 505.8L282.5 509.4L283.5 507.7L284.5 502.7L285.5 506.9L286.5 506.8L287.5 508.4L288.5 500.7L289.5 506.4L290.5 508.0L291.5 506.5L292.5 508.7L293.5 506.6L294.5 505.7L295.5 506.6L296.5 507.1L297.5 508.7L298.5 510.4L299.5 508.9L300.5 506.2L301.5 512.3L302.5 511.0L303.5 510.8L304.5 511.5L305.5 511.1L306.5 510.8L307.5 506.8L308.5 512.6L309.5 512.6L310.5 513.3L311.5 513.1L312.5 512.7L313.5 512.5L314.5 514.2L315.5 513.8L316.5 516.7L317.5 515.9L318.5 514.4L319.5 516.4L320.5 518.4L321.5 517.1L322.5 517.8L323.5 517.1L324.5 519.6L325.5 519.1L326.5 520.5L327.5 520.1L328.5 517.3L329.5 523.3L330.5 520.1L331.5 522.3L332.5 522.1L333.5 523.2L334.5 524.4L335.5 521.8L336.5 524.5L337.5 523.9L338.5 525.7L339.5 525.8L340.5 525.7L341.5 523.8L342.5 527.6L343.5 528.6L344.5 524.9L345.5 530.9L346.5 527.9L347.5 527.4L348.5 528.0L349.5 529.6L350.5 529.4L351.5 527.7L352.5 531.2L353.5 531.9L354.5 528.4L355.5 532.6L356.5 531.8L357.5 531.0L358.5 532.7L359.5 531.0L360.5 532.4L361.5 532.2L362.5 533.8L363.5 530.7L364.5 533.6L365.5 535.7L366.5 536.4L367.5 537.4L368.5 538.0L369.5 539.7L370.5 539.9L371.5 541.4L372.5 542.8L373.5 543.4L374.5 545.7L375.5 546.5L376.5 548.9L377.5 550.0L378.5 550.4L379.5 552.3L380.5 552.9L381.5 555.2L382.5 555.1L383.5 556.5L384.5 557.3L385.5 557.9L386.5 559.9L387.5 560.8L388.5 562.8L389.5 562.6L390.5 564.3L391.5 564.5L392.5 538.0L393.5 568.9L394.5 570.1L395.5 572.3L396.5 574.6L397.5 575.1L398.5 576.7" stroke="#0000ff"/>
<path d="M53.5 540.9L54.5 540.8L55.5 540.4L56.5 539.4L57.5 538.6L58.5 537.9L59.5 538.0L60.5 537.7L61.5 537.5L62.5 536.4L63.5 530.9L64.5 526.1L65.5 524.4L66.5 522.3L67.5 521.6L68.5 520.0L69.5 518.7L70.5 517.2L71.5 516.0L72.5 513.9L73.5 511.0L74.5 507.0L75.5 502.2L76.5 498.2L77.5 497.7L78.5 496.2L79.5 495.2L80.5 495.8L81.5 496.1L82.5 497.1L83.5 497.5L84.5 495.8L85.5 495.1L86.5 493.8L87.5 493.3L88.5 491.9L89.5 490.4L90.5 488.5L91.5 487.5L92.5 485.7L93.5 482.5L94.5 480.0L95.5 479.8L96.5 478.8L97.5 478.2L98.5 477.0L99.5 473.9L100.5 470.8L101.5 470.8L102.5 470.9L103.5 469.6L104.5 468.8L105.5 469.6L106.5 469.5L107.5 468.8L108.5 469.9L109.5 470.6L110.5 470.4L111.5 470.9L112.5 470.7L113.5 472.0L114.5 472.5L115.5 472.8L116.5 474.5L117.5 473.7L118.5 471.9L119.5 471.5L120.5 473.0L121.5 471.9L122.5 470.9L123.5 472.4L124.5 472.1L125.5 472.5L126.5 473.7L127.5 473.8L128.5 474.1L129.5 472.2L130.5 473.9L131.5 467.9L132.5 474.8L133.5 476.1L134.5 473.9L135.5 470.6L136.5 465.5L137.5 470.7L138.5 474.7L139.5 476.4L140.5 471.7L141.5 476.4L142.5 475.3L143.5 476.3L144.5 469.5L145.5 475.8L146.5 478.0L147.5 479.9L148.5 477.8L149.5 474.4L150.5 478.7L151.5 479.4L152.5 478.9L153.5 480.1L154.5 476.9L155.5 483.9L156.5 481.5L157.5 481.0L158.5 481.4L159.5 482.0L160.5 483.7L161.5 476.4L162.5 485.4L163.5 492.4L164.5 487.4L165.5 478.9L166.5 486.3L167.5 487.7L168.5 487.9L169.5 488.9L170.5 489.7L171.5 492.2L172.5 485.4L173.5 494.4L174.5 491.6L175.5 490.5L176.5 480.4L177.5 491.8L178.5 493.4L179.5 482.8L180.5 490.4L181.5 492.9L182.5 497.9L183.5 495.1L184.5 487.4L185.5 496.1L186.5 498.5L187.5 494.2L188.5 494.4L189.5 496.2L190.5 487.4L191.5 495.7L192.5 495.0L193.5 502.3L194.5 496.6L195.5 495.3L196.5 495.4L197.5 486.4L198.5 498.0L199.5 495.7L200.5 492.7L201.5 494.3L202.5 483.6L203.5 492.1L204.5 494.9L205.5 492.0L206.5 481.0L207.5 489.3L208.5 490.7L209.5 489.0L210.5 494.0L211.5 481.8L212.5 489.2L213.5 488.7L214.5 483.9L215.5 489.5L216.5 489.9L217.5 491.3L218.5 490.1L219.5 494.7L220.5 481.4L221.5 492.2L222.5 495.4L223.5 493.6L224.5 490.0L225.5 492.9L226.5 491.7L227.5 494.3L228.5 496.3L229.5 484.3L230.5 494.3L231.5 493.0L232.5 495.7L233.5 488.0L234.5 494.2L235.5 491.7L236.5 489.2L237.5 498.0L238.5 493.3L239.5 496.0L240.5 492.6L241.5 495.2L242.5 492.7L243.5 484.1L244.5 499.1L245.5 492.4L246.5 494.6L247.5 495.6L248.5 497.1L249.5 496.2L250.5 493.0L251.5 504.6L252.5 499.7L253.5 501.4L254.5 491.5L255.5 500.0L256.5 503.9L257.5 502.4L258.5 501.8L259.5 494.8L260.5 498.7L261.5 497.3L262.5 494.2L263.5 506.6L264.5 503.2L265.5 504.2L266.5 501.0L267.5 505.8L268.5 502.7L269.5 498.9L270.5 505.3L271.5 502.5L272.5 505.7L273.5 501.9L274.5 504.4L275.5 500.4L276.5 505.6L277.5 504.4L278.5 504.1L279.5 500.8L280.5 511.5L281.5 505.2L282.5 507.3L283.5 508.0L284.5 500.7L285.5 507.7L286.5 507.0L287.5 508.9L288.5 498.1L289.5 508.0L290.5 508.2L291.5 506.6L292.5 508.9L293.5 505.5L294.5 505.6L295.5 507.0L296.5 507.1L297.5 508.5L298.5 509.6L299.5 508.2L300.5 506.5L301.5 511.6L302.5 510.6L303.5 510.6L304.5 510.9L305.5 511.1L306.5 510.8L307.5 507.4L308.5 511.2L309.5 512.3L310.5 512.1L311.5 513.1L312.5 513.1L313.5 511.6L314.5 515.6L315.5 514.0L316.5 515.9L317.5 515.8L318.5 512.1L319.5 515.2L320.5 517.7L321.5 516.3L322.5 516.6L323.5 515.7L324.5 519.4L325.5 518.3L326.5 519.8L327.5 519.6L328.5 517.5L329.5 523.9L330.5 520.4L331.5 522.0L332.5 522.2L333.5 522.5L334.5 523.5L335.5 520.9L336.5 523.7L337.5 523.4L338.5 525.4L339.5 525.3L340.5 525.0L341.5 523.6L342.5 526.9L343.5 527.9L344.5 525.8L345.5 530.1L346.5 527.1L347.5 527.1L348.5 526.7L349.5 529.6L350.5 528.5L351.5 527.2L352.5 530.1L353.5 531.5L354.5 527.6L355.5 531.4L356.5 532.1L357.5 530.8L358.5 532.0L359.5 530.4L360.5 532.4L361.5 532.4L362.5 533.3L363.5 530.5L364.5 533.4L365.5 535.3L366.5 536.2L367.5 537.1L368.5 537.5L369.5 539.3L370.5 539.9L371.5 541.1L372.5 542.5L373.5 543.4L374.5 545.0L375.5 546.4L376.5 547.9L377.5 549.4L378.5 549.9L379.5 552.4L380.5 552.9L381.5 554.7L382.5 554.6L383.5 556.1L384.5 556.6L385.5 557.6L386.5 559.5L387.5 560.2L388.5 562.0L389.5 562.3L390.5 563.6L391.5 564.6L392.5 541.0L393.5 568.8L394.5 570.0L395.5 571.9L396.5 574.4L397.5 574.7L398.5 576.3" stroke="#ff0000"/>
</g>
</g>
<g id="allpass">
<text x="451.5" y="427.5" textLength="152.5" lengthAdjust="spacingAndGlyphs">Allpassed crest factor</text>
<text x="401" y="450">dB</text>
<rect x="451" y="434" width="150" height="1" fill="#000"/>
<rect x="451" y="583" width="150" height="1" fill="#000"/>
<rect x="451" y="434" width="1" height="150" fill="#000"/>
<rect x="600" y="434" width="1" height="150" fill="#000"/>
<rect x="446" y="558" width="5" height="1" fill="#000"/>
<rect x="446" y="533" width="5" height="1" fill="#000"/>
<rect x="446" y="509" width="5" height="1" fill="#000"/>
<rect x="446" y="484" width="5" height="1" fill="#000"/>
<rect x="446" y="459" width="5" height="1" fill="#000"/>
<rect x="446" y="434" width="5" height="1" fill="#000"/>
<rect x="446" y="583" width="5" height="1" fill="#000"/>
<text x="440.5" y="564" text-anchor="end">5</text>
<text x="440.5" y="539" text-anchor="end">10</text>
<text x="440.5" y="515" text-anchor="end">15</text>
<text x="440.5" y="490" text-anchor="end">20</text>
<rect x="460" y="584" width="1" height="5" fill="#000"/>
<rect x="466" y="584" width="1" height="5" fill="#000"/>
<rect x="471" y="584" width="1" height="5" fill="#000"/>
<rect x="475" y="584" width="1" height="5" fill="#000"/>
<rect x="478" y="584" width="1" height="5" fill="#000"/>
<rect x="481" y="584" width="1" height="5" fill="#000"/>
<rect x="483" y="584" width="1" height="5" fill="#000"/>
<rect x="486" y="584" width="1" height="5" fill="#000"/>
<rect x="501" y="584" width="1" height="5" fill="#000"/>
<rect x="509" y="584" width="1" height="5" fill="#000"/>
<rect x="516" y="584" width="1" height="5" fill="#000"/>
<rect x="520" y="584" width="1" height="5" fill="#000"/>
<rect x="524" y="584" width="1" height="5" fill="#000"/>
<rect x="528" y="584" width="1" height="5" fill="#000"/>
<rect x="531" y="584" width="1" height="5" fill="#000"/>
<rect x="533" y="584" width="1" height="5" fill="#000"/>
<rect x="535" y="584" width="1" height="5" fill="#000"/>
<rect x="550" y="584" width="1" height="5" fill="#000"/>
<rect x="559" y="584" width="1" height="5" fill="#000"/>
<rect x="565" y="584" width="1" height="5" fill="#000"/>
<rect x="570" y="584" width="1" height="5" fill="#000"/>
<rect x="574" y="584" width="1" height="5" fill="#000"/>
<rect x="577" y="584" width="1" height="5" fill="#000"/>
<rect x="580" y="584" width="1" height="5" fill="#000"/>
<rect x="583" y="584" width="1" height="5" fill="#000"/>
<rect x="585" y="584" width="1" height="5" fill="#000"/>
<rect x="600" y="584" width="1" height="5" fill="#000"/>
<text x="485.5" y="605" text-anchor="middle">0,1</text>
<text x="534.5" y="605" text-anchor="middle">1</text>
<text x="550.5" y="605" text-anchor="middle">2</text>
<text x="600.5" y="605" text-anchor="end">kHz</text>
<path d="M452 533.5H600" stroke="#ff0000" stroke-width="1" stroke-dasharray="3 3" fill="none"/>
<path d="M451.4 518.3L460.1 515.2L475.7 507.9L493.0 505.8L510.4 504.8L524.2 504.5L534.6 506.5L550.9 509.3L562.3 514.9L574.5 521.4L586.6 524.6L600.5 528.4" stroke="#0000ff" stroke-width="1" fill="none"/>
<path d="M451.4 517.6L460.1 514.2L475.7 506.9L493.0 504.1L510.4 503.1L524.2 502.4L534.6 505.1L550.9 509.0L562.3 514.2L574.5 520.0L586.6 522.5L600.5 524.9" stroke="#ff0000" stroke-width="1" fill="none"/>
</g>
<g id="histogram">
<text x="55" y="626" textLength="190.5" lengthAdjust="spacingAndGlyphs">Histogram, "bits": 16,0/16,0</text>
<text x="4" y="649">n</text>
<rect x="53" y="633" width="346" height="1" fill="#000"/>
<rect x="53" y="782" width="346" height="1" fill="#000"/>
<rect x="53" y="633" width="1" height="150" fill="#000"/>
<rect x="398" y="633" width="1" height="150" fill="#000"/>
<rect x="48" y="780" width="5" height="1" fill="#000"/>
<rect x="48" y="779" width="5" height="1" fill="#000"/>
<rect x="48" y="777" width="5" height="1" fill="#000"/>
<rect x="48" y="768" width="5" height="1" fill="#000"/>
<rect x="48" y="763" width="5" height="1" fill="#000"/>
<rect x="48" y="759" width="5" height="1" fill="#000"/>
<rect x="48" y="756" width="5" height="1" fill="#000"/>
<rect x="48" y="753" width="5" height="1" fill="#000"/>
<rect x="48" y="751" width="5" height="1" fill="#000"/>
<rect x="48" y="749" width="5" height="1" fill="#000"/>
<rect x="48" y="748" width="5" height="1" fill="#000"/>
<rect x="48" y="747" width="5" height="1" fill="#000"/>
<rect x="48" y="737" width="5" height="1" fill="#000"/>
<rect x="48" y="732" width="5" height="1" fill="#000"/>
<rect x="48" y="728" width="5" height="1" fill="#000"/>
<rect x="48" y="725" width="5" height="1" fill="#000"/>
<rect x="48" y="723" width="5" height="1" fill="#000"/>
<rect x="48" y="721" width="5" height="1" fill="#000"/>
<rect x="48" y="719" width="5" height="1" fill="#000"/>
<rect x="48" y="717" width="5" height="1" fill="#000"/>
<rect x="48" y="716" width="5" height="1" fill="#000"/>
<rect x="48" y="707" width="5" height="1" fill="#000"/>
<rect x="48" y="701" width="5" height="1" fill="#000"/>
<rect x="48" y="697" width="5" height="1" fill="#000"/>
<rect x="48" y="695" width="5" height="1" fill="#000"/>
<rect x="48" y="692" width="5" height="1" fill="#000"/>
<rect x="48" y="690" width="5" height="1" fill="#000"/>
<rect x="48" y="688" width="5" height="1" fill="#000"/>
<rect x="48" y="687" width="5" height="1" fill="#000"/>
<rect x="48" y="685" width="5" height="1" fill="#000"/>
<rect x="48" y="676" width="5" height="1" fill="#000"/>
<rect x="48" y="671" width="5" height="1" fill="#000"/>
<rect x="48" y="667" width="5" height="1" fill="#000"/>
<rect x="48" y="664" width="5" height="1" fill="#000"/>
<rect x="48" y="661" width="5" height="1" fill="#000"/>
<rect x="48" y="659" width="5" height="1" fill="#000"/>
<rect x="48" y="658" width="5" height="1" fill="#000"/>
<rect x="48" y="656" width="5" height="1" fill="#000"/>
<rect x="48" y="655" width="5" height="1" fill="#000"/>
<rect x="48" y="645" width="5" height="1" fill="#000"/>
<rect x="48" y="640" width="5" height="1" fill="#000"/>
<rect x="48" y="636" width="5" height="1" fill="#000"/>
<rect x="48" y="633" width="5" height="1" fill="#000"/>
<rect x="48" y="633" width="5" height="1" fill="#000"/>
<text x="43" y="691" text-anchor="end">1000</text>
<text x="43" y="722" text-anchor="end">100</text>
<text x="43" y="753" text-anchor="end">10</text>
<rect x="69" y="783" width="1" height="5" fill="#000"/>
<text x="69.5" y="804" text-anchor="middle">-1</text>
<rect x="100" y="783" width="1" height="5" fill="#000"/>
<text x="100.5" y="804" text-anchor="middle">-0,8</text>
<rect x="131" y="783" width="1" height="5" fill="#000"/>
<text x="131.5" y="804" text-anchor="middle">-0,6</text>
<rect x="163" y="783" width="1" height="5" fill="#000"/>
<text x="163.5" y="804" text-anchor="middle">-0,4</text>
<rect x="194" y="783" width="1" height="5" fill="#000"/>
<text x="194.5" y="804" text-anchor="middle">-0,2</text>
<rect x="226" y="783" width="1" height="5" fill="#000"/>
<text x="226.5" y="804" text-anchor="middle">0</text>
<rect x="257" y="783" width="1" height="5" fill="#000"/>
<text x="257.5" y="804" text-anchor="middle">0,2</text>
<rect x="288" y="783" width="1" height="5" fill="#000"/>
<text x="288.5" y="804" text-anchor="middle">0,4</text>
<rect x="320" y="783" width="1" height="5" fill="#000"/>
<text x="320.5" y="804" text-anchor="middle">0,6</text>
<rect x="351" y="783" width="1" height="5" fill="#000"/>
<text x="351.5" y="804" text-anchor="middle">0,8</text>
<rect x="382" y="783" width="1" height="5" fill="#000"/>
<text x="382.5" y="804" text-anchor="middle">1</text>
<rect x="398" y="783" width="1" height="5" fill="#000"/>
<clipPath id="c5a"><rect x="53" y="633" width="346" height="150"/></clipPath>
<g clip-path="url(#c5a)" fill="none" stroke-width="1" stroke-linejoin="miter">
<path d="M73 722h3v2h-1v1h-2zM378 720h1v1h2v2h-1v1h-1v-1h-1z" fill="#0000ff" stroke="none"/>
<path d="M77.5 714.5L80.5 710.5L85.5 705.5L90.5 702.5L100.5 696.5L115.5 689.5M351.5 695.5L365.5 703.5L372.5 708.5L375.5 710.5" stroke="#0000ff"/>
<path d="M53.5 782.5L71.5 782.5L71.5 643.5L72.5 643.5L72.5 722.5L73.5 722.5L75.5 721.5L76.5 721.5L76.5 649.5L77.5 649.5L77.5 713.5L80.5 709.5L85.5 704.5L90.5 701.5L100.5 695.5L115.5 688.5L130.5 684.5L140.5 680.5L163.5 672.5L195.5 663.5L210.5 660.5L218.5 658.5L222.5 656.5L224.5 653.5L225.5 650.5L226.5 634.5L227.5 634.5L227.5 650.5L229.5 654.5L232.5 657.5L240.5 659.5L257.5 663.5L266.5 666.5L288.5 672.5L320.5 683.5L351.5 694.5L365.5 702.5L372.5 707.5L375.5 709.5L376.5 709.5L376.5 648.5L377.5 648.5L377.5 719.5L378.5 719.5L380.5 721.5L381.5 721.5L381.5 640.5L382.5 640.5L382.5 782.5L398.5 782.5" stroke="#ff0000"/>
<path d="M77.5 712.5L80.5 708.5L85.5 703.5L90.5 700.5L100.5 694.5L115.5 687.5L130.5 683.5L140.5 679.5L163.5 671.5L195.5 662.5L210.5 659.5L218.5 657.5L222.5 655.5L224.5 652.5L225.5 649.5M229.5 653.5L232.5 656.5L240.5 658.5L257.5 662.5L266.5 665.5L288.5 671.5L320.5 682.5L351.5 693.5L365.5 701.5L372.5 706.5L375.5 708.5" stroke="#ff0000"/>
</g>
</g>
<defs>
<marker id="mr" markerWidth="6" markerHeight="6" refX="3" refY="3" markerUnits="userSpaceOnUse"><path d="M2 1h2v1h1v2h-1v1h-2v-1h-1v-2h1z" fill="#fff"/><path d="M2 0h2v1h-2zM1 1h1v1h-1zM4 1h1v1h-1zM0 2h1v2h-1zM5 2h1v2h-1zM1 4h1v1h-1zM4 4h1v1h-1zM2 5h2v1h-2z" fill="#ff0000"/></marker>
<marker id="mb" markerWidth="6" markerHeight="5" refX="3" refY="2" markerUnits="userSpaceOnUse"><path d="M2 1h2v1h1v1h-1v1h-2v-1h-1v-1h1z" fill="#fff"/><path d="M2 0h2v1h-2zM1 1h1v1h-1zM4 1h1v1h-1zM0 2h1v1h-1zM5 2h1v1h-1zM1 3h1v1h-1zM4 3h1v1h-1zM2 4h2v1h-2z" fill="#0000ff"/></marker>
</defs>
<g id="peak-vs-rms">
<text x="452.3" y="626.5" textLength="129" lengthAdjust="spacingAndGlyphs">Peak vs RMS level</text>
<text x="401" y="649">dBFS</text>
<rect x="451" y="633" width="150" height="1" fill="#000"/>
<rect x="451" y="782" width="150" height="1" fill="#000"/>
<rect x="451" y="633" width="1" height="150" fill="#000"/>
<rect x="600" y="633" width="1" height="150" fill="#000"/>
<rect x="446" y="636" width="5" height="1" fill="#000"/>
<rect x="597" y="783" width="1" height="5" fill="#000"/>
<rect x="446" y="665" width="5" height="1" fill="#000"/>
<rect x="568" y="783" width="1" height="5" fill="#000"/>
<rect x="446" y="694" width="5" height="1" fill="#000"/>
<rect x="539" y="783" width="1" height="5" fill="#000"/>
<rect x="446" y="724" width="5" height="1" fill="#000"/>
<rect x="509" y="783" width="1" height="5" fill="#000"/>
<rect x="446" y="753" width="5" height="1" fill="#000"/>
<rect x="480" y="783" width="1" height="5" fill="#000"/>
<rect x="446" y="633" width="5" height="1" fill="#000"/>
<rect x="446" y="782" width="5" height="1" fill="#000"/>
<rect x="451" y="783" width="1" height="5" fill="#000"/>
<rect x="600" y="783" width="1" height="5" fill="#000"/>
<text x="440.5" y="671" text-anchor="end">-10</text>
<text x="440.5" y="700" text-anchor="end">-20</text>
<text x="440.5" y="730" text-anchor="end">-30</text>
<text x="440.5" y="759" text-anchor="end">-40</text>
<text x="480.5" y="804" text-anchor="middle">-40</text>
<text x="509.5" y="804" text-anchor="middle">-30</text>
<text x="539.5" y="804" text-anchor="middle">-20</text>
<text x="600.5" y="804" text-anchor="end">dBFS</text>
<clipPath id="c5b"><rect x="451" y="633" width="150" height="150"/></clipPath>
<path d="M451.5 782.5L601.5 632.5M451.5 753.5L572.5 632.5M451.5 724.5L543.5 632.5M451.5 694.5L513.5 632.5M451.5 665.5L484.5 632.5" stroke="#000" stroke-width="1" fill="none" clip-path="url(#c5b)"/>
<text x="463.8" y="669.4" class="r" font-size="11" text-anchor="middle" transform="rotate(-45 463.8 665.4)">40</text>
<text x="463.1" y="699.2" class="r" font-size="11" text-anchor="middle" transform="rotate(-45 463.1 695.2)">30</text>
<text x="463.8" y="758.6" class="r" font-size="11" text-anchor="middle" transform="rotate(-45 463.8 754.6)">10</text>
<text x="483.3" y="770.2" class="r" font-size="11" text-anchor="middle" transform="rotate(-45 483.3 766.2)">0 dB</text>
<polyline points="560,645 555,640 559,656 558,650 533,671 552,650 483,721 552,650 545,646 533,663 522,677 558,638 513,665 566,636 549,653 545,664 549,636 508,691 491,694 508,669 561,645 479,712 499,687 456,735 487,702 566,632 562,638 561,638 555,637 563,641 561,644 566,647 556,646 564,643 487,703 566,650 569,640 463,728 557,649 477,705 566,645 518,680 517,682 497,702 499,682 491,692 559,645 564,654 560,663 559,649 565,636 566,637 548,645 543,646 548,659 523,664 562,651 559,654 517,671 571,638 570,633 558,659 467,728 563,648 483,710 474,716 542,667 552,651 565,644 557,651 546,652 562,643 491,690 570,642 567,644 567,652 548,660 485,698 489,689 512,695 531,674 557,656 562,644 559,649 565,639 568,649 513,666 482,705 547,660 567,639 564,642 551,651 558,648 555,649 570,637 564,648 574,634 555,647 503,686 564,652 538,656 562,635 481,697 553,656 511,685 553,640 559,641 566,646 503,673 547,655 575,636 559,638 558,642 554,648 470,717 560,642 550,641 557,636 546,659 563,650 552,660 566,643 563,648 561,643 558,639 495,685 572,637 496,689 481,707 564,640 574,634 560,655 569,644 558,643 523,673 515,676 560,643 570,641 556,645 532,651 553,638 570,635 555,647 497,681 548,655 575,635 568,639 567,637 557,654 561,635 568,643 552,659 541,645 548,646 570,640 564,645 571,634 468,723 492,698 559,646 554,646 554,640 557,643 557,651 564,636 563,654 558,646 552,640 542,641 554,662 560,652 557,648 516,674 517,673 552,643 560,654 556,635 550,644 515,668 527,661 554,635 546,659 485,711 558,644 551,656 559,639 572,639 561,651 563,644 506,690 556,647 563,639 565,653 565,653 561,650 514,682 556,652 500,668 455,738 475,712 557,637 560,645 516,676 565,639 574,642 568,640 556,644 568,645 481,699 487,709 555,659 493,695 563,638 554,644 557,638 539,664 481,717 546,663 560,633 462,735 559,653 551,656 565,640 552,658 516,673 555,650 555,654 561,641 574,634 557,640 558,649 564,652 517,666 559,642 555,649 457,745 561,643 573,636 563,640 554,651 551,650 561,644 570,645 558,651 559,641 555,650 499,709 477,714 563,645 530,656 552,654 554,645 533,669 488,698 568,639 554,655 562,643 551,650 559,640 515,687 554,639 554,640 499,677 494,688 563,636 558,639 542,661 557,652 491,706 562,649 565,642 488,698 555,638 568,636 565,638 490,705 532,663 572,645 557,649 480,708 567,636 550,646 566,639 565,651 483,712 558,656 573,643 574,637 566,643 561,650 553,655 469,721 525,674 518,662 556,658 499,678 508,686 550,638 552,644 563,647 546,646 560,636 564,635 547,643 487,702 563,639 569,637 557,652 543,652 453,728 462,728 549,666 545,658 455,740 485,713 553,651 527,661 542,658 549,645 553,666 561,648 558,655 489,692 532,662 510,664 513,686 561,634 557,651 550,660 562,649 560,654 570,636 568,639 462,721 519,680 543,661 461,735 560,642 559,644 548,658 554,638 493,704 556,658 551,658 530,682 561,632 558,646 528,663 566,635 562,648 561,639 508,679 482,703 569,648 557,640 484,694 563,642 463,728 558,642 564,638 563,649 571,634 470,710 561,648 491,691 546,662 489,699 564,643 556,646 493,681 561,651 572,637 570,638 511,685 560,634 450,739 457,738 562,640 530,668 559,648 453,734 566,648 557,644 569,643 552,643 569,633 551,660 564,645 553,651 545,651 564,636 564,645 480,700 566,642 485,701 563,641 501,691 564,639 548,643 505,687 559,648 570,639 573,636 571,645 557,645 561,654 570,646 558,642 489,698 558,646 562,636 554,644 504,699 562,638 556,652 551,635 483,710 570,636 560,654 558,649 561,644 557,639 494,688 563,646 552,648 557,649 510,694 562,650 565,650 532,668 559,652 549,648 557,660 541,663 566,639 558,658 564,636 554,659 565,647 554,649 522,655 539,652 459,737 569,642 549,645 570,644 568,635 533,660 570,646 561,636 554,647 512,663 558,646 495,681 569,638 451,742 535,650 575,636 564,640 561,635 495,683 553,650 553,652 558,640 556,639 547,653 559,644 560,650 565,633 574,632 568,641 484,691 560,648 558,650 455,728 561,646 547,663 556,637 566,645 557,648 563,650 566,645 569,648 569,638 566,650 557,653 559,656 487,683 518,686 456,733 544,655 563,644 563,652 552,652 560,650 533,657 534,670 559,654 557,655 564,644 544,658 460,739 547,647 566,637 552,656 560,634 558,640 497,687 565,640 566,641 494,708 555,651 567,643 492,701 554,652 560,652 560,650 571,638 501,690 454,738 500,698 552,644 556,654 569,641 566,652 556,646 563,635 518,663 558,654 555,651 553,645 551,646 557,661 562,652 563,643 564,640 557,649 558,636 556,644 520,669 523,670 555,647 566,632 563,638 560,637 558,650 558,646 496,682 561,633 482,706 511,688 573,638 558,644 561,643 469,723 552,636 556,649 564,649 558,657 557,658 553,657 499,699 464,718 564,649 569,639 560,644 536,648 558,649 547,661 546,641 546,660 495,685 509,665 541,653 562,640 468,715 553,649 548,653 540,663 485,699 479,711 530,659 557,639 533,660 559,646 543,659 558,646 487,689 451,745 544,655 553,658 553,659 562,651 556,655 567,643 533,661 560,649 458,744 573,638 580,641 564,647 549,665 567,638 524,651 464,731 562,648 552,660 495,679 570,645 551,644 563,651 561,644 522,665 519,691 567,632 554,647 449,736 567,645 456,736 549,663 486,692 570,640 493,694 557,649 562,637 573,636 563,639 501,678 563,657 555,649 525,660 559,646 538,667 553,660 572,639 558,649 470,715 491,704 508,677 541,667 557,647 561,649 559,635 561,652 570,637 528,670 525,676 559,652 570,651 522,683 536,654 562,641 564,645 554,656 571,636 559,639 536,653 546,655 461,725 551,644 564,649 570,640 565,647 561,642 550,663 555,656 563,653 489,685 551,658 566,637 541,663 539,648 560,638 566,636 563,653 569,643 564,634 559,656 454,745 555,654 555,653 516,670 570,636 468,713 561,653 488,708 490,702 488,705 567,650 556,644 553,654 562,643 547,658 567,649 474,711 564,648 555,653 547,643 554,657 559,649 560,643 530,673 455,737 555,652 496,699 481,705 503,677 550,649 550,654 552,641 564,646 474,728 553,651 579,643 554,650 547,653 510,674 557,642 551,642 567,643 558,643 479,691 556,655 536,668 454,737 561,648 556,644 495,703 555,657 560,641 552,640 559,660 511,679 500,694 533,677 558,646 560,656 457,739 572,632 566,640 564,641 555,634 498,676 565,657 529,668 503,677 564,643 558,640 469,717 564,645 549,645 560,647 567,648 545,664 550,643 488,700 571,634 492,676 562,643 552,643 573,636 559,645 558,644 513,693 555,632 571,640 527,668 477,714 482,708 546,651 568,643 567,641 553,663 557,642 560,650 569,646 564,640 560,635 565,635 568,636 566,643 558,645 558,650 554,648 538,663 570,638 554,648 575,642 565,636 562,647 468,722 569,637 547,651 560,644 466,726 565,639 482,711 531,661 552,655 494,707 527,680 459,735 555,643 552,651 559,658 555,658 571,635 568,642 556,657 475,725 478,727 569,643 574,635 575,638 534,658 560,644 565,645 559,641 569,639 557,646 560,649 458,728 515,660 532,659 560,657 535,666 563,643 572,641 457,733 556,650 560,637 551,660 573,639 565,645 488,706 564,641 562,643 454,739 460,728 567,646 561,653 565,640 566,650 566,643 553,664 501,684 566,639 553,642 453,736 555,653 490,681 559,650 557,651 486,688 550,639 562,645 560,653 568,634 557,645 458,731 545,656 557,637 569,638 557,657 572,636 552,650 505,679 454,738 550,640 562,654 556,645 562,646 513,670 533,657 562,651 555,638 556,641 541,652 561,651 482,718 552,643 512,689 545,659 568,640 566,644 567,635 558,643 477,704 553,650 575,647 563,645 559,639 562,641 548,662 485,703 497,690 455,739 559,655 458,736 454,732 556,650 562,648 563,638 558,642" fill="none" stroke="none" marker-start="url(#mb)" marker-mid="url(#mb)" marker-end="url(#mb)" clip-path="url(#c5b)"/>
<polyline points="560,644 555,641 558,652 559,649 532,670 553,652 484,724 552,649 546,646 534,663 519,680 559,638 514,662 567,636 549,652 547,661 553,640 507,690 494,692 510,671 558,647 478,713 503,683 456,734 487,702 562,636 562,637 564,642 555,638 560,644 559,642 565,651 554,649 563,647 491,705 565,650 566,638 463,727 558,649 474,703 566,644 521,676 518,678 498,700 500,682 491,693 557,643 563,652 557,659 561,651 564,637 566,637 548,644 543,645 547,655 523,664 560,647 560,653 521,668 571,637 566,636 557,659 466,731 566,650 484,711 474,715 541,670 549,649 564,642 557,651 543,650 564,645 491,690 567,645 563,641 563,648 549,659 484,697 489,689 513,694 530,670 557,656 562,643 556,653 565,638 570,647 512,667 485,703 547,659 567,638 564,641 554,647 560,651 556,650 567,640 564,647 576,636 553,643 503,687 566,650 542,659 563,636 484,700 555,654 511,684 552,641 559,642 565,643 504,673 548,656 575,636 563,636 559,639 555,648 467,714 561,645 554,644 557,637 549,657 564,651 552,659 566,644 560,651 562,642 557,640 495,685 571,636 496,690 477,710 567,638 576,637 560,656 568,647 561,646 523,672 512,673 561,645 570,641 557,646 532,652 552,641 570,636 554,650 500,684 548,654 575,636 569,639 568,637 557,654 561,636 568,644 552,660 538,649 551,642 568,638 563,644 570,636 471,725 495,702 559,645 554,645 555,638 561,640 560,649 565,636 562,654 556,643 555,642 542,642 553,660 558,649 558,649 518,672 518,674 552,644 561,655 555,638 549,647 518,670 524,659 557,637 545,661 487,713 562,640 554,658 559,639 573,636 560,651 565,642 506,690 557,644 564,640 567,650 564,652 565,648 513,683 556,653 499,671 455,737 475,713 555,641 561,647 517,676 564,637 572,645 569,639 556,645 565,641 481,698 487,708 554,663 493,696 564,639 553,646 557,637 542,660 485,713 543,666 564,636 458,733 558,653 548,658 565,640 552,657 517,673 555,649 555,654 561,642 576,636 561,637 557,652 564,652 516,667 557,646 556,647 453,747 562,644 574,636 565,636 552,647 555,654 561,643 574,643 557,651 563,644 556,653 496,712 473,716 567,641 529,660 553,651 554,645 532,666 488,697 566,636 555,651 562,644 547,654 558,639 514,685 554,640 555,643 503,680 495,690 562,636 558,639 546,664 553,654 487,702 562,649 569,639 488,698 556,637 568,636 563,641 493,708 533,661 572,644 557,649 481,707 566,636 550,646 567,640 562,648 480,714 558,655 569,640 574,637 562,646 560,649 549,652 470,721 524,675 517,663 556,659 501,682 505,683 554,642 552,645 562,651 547,647 564,639 564,636 551,646 486,702 561,641 570,636 557,651 544,650 452,730 461,728 545,662 544,659 456,740 486,713 551,647 531,664 542,657 549,645 552,664 561,647 559,656 492,696 535,664 510,665 517,689 558,637 561,653 549,660 562,650 564,650 571,636 564,642 462,720 519,681 543,662 460,736 563,639 559,644 548,659 555,641 489,706 556,658 550,655 530,682 562,636 562,649 528,663 563,639 562,649 562,640 509,678 481,705 571,646 558,640 484,693 564,642 463,727 562,638 564,639 561,645 567,638 469,709 562,649 492,692 546,661 490,698 563,647 557,643 497,677 557,648 572,636 569,637 510,686 563,637 451,740 459,735 561,644 530,667 560,649 452,736 566,647 555,641 571,645 552,644 568,636 554,656 566,643 553,651 547,654 563,640 563,649 484,698 565,639 484,700 565,638 501,692 567,637 547,643 502,684 555,652 566,636 571,639 572,644 560,648 560,651 570,645 559,642 488,698 562,649 563,637 553,643 505,696 562,639 557,652 553,638 486,714 570,636 560,653 558,648 561,643 556,639 494,687 564,645 553,646 561,647 507,691 562,651 564,650 532,669 558,653 549,648 557,659 540,664 563,636 558,659 562,639 555,660 564,647 551,645 526,659 543,649 457,734 565,646 553,643 570,643 569,636 529,657 567,650 562,636 555,650 508,665 559,646 497,685 571,636 451,742 537,646 575,636 564,640 561,636 499,679 553,650 553,652 556,637 555,638 545,656 562,646 562,647 568,637 571,636 568,641 485,692 559,652 555,647 456,728 561,646 545,660 555,638 565,644 557,648 566,647 567,646 567,645 569,637 563,646 557,653 558,654 491,680 517,686 455,735 546,652 563,643 563,653 551,653 561,649 531,661 530,672 560,651 556,656 563,640 545,658 464,735 548,646 566,636 555,653 561,636 557,641 497,687 564,640 566,640 494,708 554,650 563,640 492,701 554,652 561,652 561,648 574,636 502,690 455,742 499,697 553,648 556,654 568,644 564,649 559,650 563,636 522,666 559,650 557,653 554,645 552,647 557,660 562,652 563,642 563,639 558,649 561,638 555,644 519,670 522,670 554,648 565,636 565,636 559,640 554,647 559,645 500,686 565,637 482,705 510,689 575,636 555,642 561,642 468,724 556,640 556,650 565,649 558,656 557,657 553,656 499,698 465,718 564,649 570,639 560,643 535,648 558,649 547,662 543,645 547,659 499,689 509,665 541,654 561,639 468,714 552,647 552,656 537,665 489,697 481,708 529,660 557,639 536,663 560,647 543,658 557,645 484,693 450,748 548,659 557,655 553,658 561,652 557,654 564,647 534,659 559,649 459,740 573,639 576,637 563,651 548,661 568,636 525,651 460,734 561,649 553,657 494,680 570,645 550,644 562,652 560,645 523,666 519,691 565,636 554,646 450,737 566,646 455,735 549,664 487,693 566,636 491,698 554,647 562,636 572,636 562,639 501,678 560,655 555,649 528,662 558,647 536,669 554,661 572,640 558,650 471,716 493,706 507,675 541,668 558,648 565,651 560,636 562,651 570,636 531,674 525,676 561,648 569,647 523,683 537,655 566,638 567,647 558,652 570,637 557,637 537,653 547,655 460,726 552,646 565,649 572,636 561,644 562,641 553,660 556,659 562,652 492,689 549,662 566,636 539,665 543,651 560,637 564,639 566,649 568,643 562,636 559,656 452,741 556,657 554,654 515,670 570,636 468,712 561,653 485,710 488,705 488,704 566,649 558,642 555,651 563,642 546,657 563,646 470,715 566,650 555,653 545,646 554,656 559,648 558,645 530,672 454,737 555,653 496,700 481,706 502,676 551,649 552,658 553,642 567,644 473,727 552,647 576,641 553,651 546,652 513,677 558,644 550,641 569,645 557,643 483,693 555,656 538,666 455,735 561,647 556,644 495,704 555,658 560,640 556,638 557,658 507,675 502,696 536,673 559,645 559,656 456,736 569,636 566,639 564,642 559,638 498,676 561,653 532,672 502,676 563,645 557,642 469,716 560,647 553,649 559,643 568,647 545,665 553,646 491,697 569,636 492,677 563,643 551,642 573,636 560,643 562,642 514,692 557,636 572,640 528,667 478,713 481,707 544,654 568,644 565,637 553,662 556,643 562,646 570,645 565,638 564,637 565,636 567,636 563,646 558,644 562,648 557,652 542,661 567,641 555,649 573,638 567,640 558,645 468,721 571,641 548,650 560,645 464,723 566,639 484,707 531,661 553,656 493,706 528,681 461,737 558,645 554,655 558,657 554,659 571,636 570,638 556,656 472,722 478,727 565,646 574,636 571,636 535,657 562,647 565,644 560,639 569,640 558,648 563,645 457,727 516,659 530,663 559,655 535,665 567,645 568,643 456,735 555,651 561,640 549,664 572,640 569,642 485,709 562,643 558,641 458,737 460,729 565,648 562,652 564,643 565,647 565,642 554,660 499,681 562,641 557,638 453,736 556,652 494,677 559,649 556,655 489,690 550,640 562,645 560,652 566,637 557,645 457,731 542,652 557,638 566,640 561,653 571,636 552,649 504,679 454,739 550,641 559,652 552,643 562,646 512,670 534,656 559,654 556,637 556,640 540,651 562,652 483,714 549,646 510,687 546,658 567,641 563,640 567,636 556,639 480,707 555,648 572,644 559,642 558,638 565,644 544,665 489,701 496,691 453,735 556,652 458,735 453,731 555,653 562,649 564,638 560,644" fill="none" stroke="none" marker-start="url(#mr)" marker-mid="url(#mr)" marker-end="url(#mr)" clip-path="url(#c5b)"/>
</g>
<g id="short-term">
<text x="55.5" y="825.5" textLength="190.5" lengthAdjust="spacingAndGlyphs">Short term (1 s) crest factor</text>
<text x="280.5" y="825.5" textLength="319.5" lengthAdjust="spacingAndGlyphs">Checksum (energy):  36 205 446 286 392 474</text>
<text x="3.5" y="848">dB</text>
<path d="M54 860.5H600M54 888.5H600" stroke="#000" stroke-width="1" stroke-dasharray="3 3" fill="none"/>
<rect x="53" y="832" width="548" height="1" fill="#000"/>
<rect x="53" y="916" width="548" height="1" fill="#000"/>
<rect x="53" y="832" width="1" height="85" fill="#000"/>
<rect x="600" y="832" width="1" height="85" fill="#000"/>
<rect x="48" y="832" width="5" height="1" fill="#000"/>
<rect x="48" y="860" width="5" height="1" fill="#000"/>
<rect x="48" y="888" width="5" height="1" fill="#000"/>
<rect x="48" y="916" width="5" height="1" fill="#000"/>
<text x="43" y="894" text-anchor="end">10</text>
<rect x="53" y="919" width="1" height="4" fill="#000"/>
<rect x="122" y="919" width="1" height="4" fill="#000"/>
<text x="122.5" y="940" text-anchor="middle">500</text>
<rect x="191" y="919" width="1" height="4" fill="#000"/>
<text x="191.5" y="940" text-anchor="middle">1000</text>
<rect x="260" y="919" width="1" height="4" fill="#000"/>
<text x="260.5" y="940" text-anchor="middle">1500</text>
<rect x="329" y="919" width="1" height="4" fill="#000"/>
<text x="329.5" y="940" text-anchor="middle">2000</text>
<rect x="398" y="919" width="1" height="4" fill="#000"/>
<text x="398.5" y="940" text-anchor="middle">2500</text>
<rect x="467" y="919" width="1" height="4" fill="#000"/>
<text x="467.5" y="940" text-anchor="middle">3000</text>
<rect x="536" y="919" width="1" height="4" fill="#000"/>
<text x="536.5" y="940" text-anchor="middle">3500</text>
<rect x="600" y="919" width="1" height="4" fill="#000"/>
<text x="601" y="940" text-anchor="end">s</text>
<clipPath id="c6"><rect x="53" y="832" width="548" height="85"/></clipPath>
<polyline points="54,885 54,887 54,882 54,899 55,877 55,882 55,881 55,897 55,881 55,882 55,899 56,872 56,895 56,887 56,888 56,884 56,882 56,884 57,883 57,885 57,890 57,879 57,887 57,891 57,891 57,889 58,884 58,888 58,883 58,886 58,885 58,877 58,875 59,885 59,881 59,881 59,891 59,889 59,882 59,889 60,892 60,884 60,885 60,885 60,857 60,860 60,879 60,889 60,884 60,884 61,886 61,888 61,873 61,893 61,893 61,885 61,897 62,882 62,887 62,895 62,876 62,890 62,881 62,888 63,891 63,884 63,880 63,884 63,871 63,878 63,888 63,886 63,890 64,899 64,873 64,883 64,887 64,886 64,890 64,893 65,889 65,892 65,891 65,889 65,892 65,890 65,891 66,891 66,893 66,890 66,891 66,889 66,890 66,892 66,890 67,890 67,889 67,890 67,890 67,892 67,889 67,892 68,891 68,891 68,892 68,892 68,891 68,892 68,891 69,891 69,891 69,888 69,889 69,887 69,889 69,889 69,893 70,891 70,893 70,891 70,890 70,892 70,890 70,891 71,889 71,890 71,892 71,891 71,891 71,891 71,892 72,891 72,889 72,892 72,890 72,893 72,890 72,891 72,893 73,890 73,892 73,890 73,891 73,891 73,891 73,889 74,890 74,889 74,892 74,890 74,888 74,890 74,887 75,888 75,889 75,891 75,891 75,889 75,890 75,891 75,891 76,892 76,891 76,889 76,890 76,893 76,891 76,893 77,892 77,890 77,889 77,891 77,891 77,891 77,891 78,891 78,892 78,892 78,888 78,890 78,890 78,890 78,891 79,890 79,889 79,892 79,890 79,891 79,891 79,889 80,888 80,890 80,891 80,890 80,890 80,888 80,891 81,891 81,890 81,892 81,890 81,891 81,891 81,891 81,890 82,891 82,890 82,889 82,892 82,890 82,891 82,888 83,891 83,892 83,892 83,889 83,892 83,891 83,890 84,891 84,891 84,889 84,890 84,888 84,890 84,892 84,891 85,890 85,893 85,891 85,889 85,888 85,889 85,888 86,889 86,889 86,889 86,891 86,891 86,889 86,890 87,889 87,891 87,892 87,889 87,890 87,890 87,890 87,891 88,890 88,892 88,890 88,892 88,889 88,890 88,889 89,892 89,890 89,891 89,889 89,889 89,889 89,891 90,890 90,890 90,890 90,890 90,890 90,889 90,888 90,889 91,890 91,889 91,889 91,889 91,888 91,891 91,893 92,889 92,889 92,890 92,889 92,890 92,891 92,888 93,890 93,891 93,891 93,889 93,889 93,888 93,889 93,886 94,889 94,886 94,885 94,889 94,886 94,891 94,889 95,889 95,886 95,884 95,890 95,859 95,862 95,867 95,885 95,884 95,885 95,890 95,881 96,883 96,878 96,885 96,882 96,887 96,880 96,885 96,881 96,888 96,881 96,874 96,886 96,876 96,889 96,890 96,874 96,888 97,876 97,889 97,887 97,886 97,882 97,886 97,887 97,891 97,888 97,892 97,886 98,889 98,890 98,890 98,891 98,889 98,890 98,889 99,891 99,888 99,891 99,890 99,892 99,888 99,888 99,890 100,889 100,890 100,889 100,893 100,889 100,890 100,891 101,889 101,888 101,890 101,891 101,890 101,892 101,889 102,889 102,891 102,891 102,890 102,888 102,891 102,890 102,890 103,889 103,893 103,892 103,891 103,890 103,892 103,891 104,892 104,890 104,891 104,890 104,890 104,891 104,890 105,890 105,889 105,890 105,891 105,892 105,891 105,891 105,887 106,892 106,890 106,890 106,891 106,894 106,890 106,892 107,891 107,891 107,889 107,890 107,888 107,892 107,890 108,890 108,891 108,889 108,891 108,888 108,889 108,890 108,891 109,892 109,892 109,890 109,890 109,891 109,889 109,889 110,888 110,891 110,890 110,894 110,891 110,889 110,891 111,891 111,891 111,891 111,892 111,888 111,891 111,890 111,888 112,891 112,892 112,890 112,892 112,891 112,893 112,889 113,890 113,890 113,887 113,890 113,891 113,890 113,890 114,889 114,888 114,887 114,887 114,885 114,885 114,885 114,886 115,885 115,887 115,884 115,885 115,888 115,879 115,887 116,891 116,886 116,890 116,886 116,869 116,875 116,891 116,885 116,883 117,884 117,887 117,890 117,887 117,889 117,888 117,887 117,889 118,889 118,888 118,890 118,891 118,887 118,888 118,890 119,890 119,891 119,889 119,892 119,889 119,889 119,891 120,894 120,892 120,892 120,888 120,892 120,891 120,890 120,890 121,893 121,894 121,889 121,890 121,890 121,892 121,890 122,888 122,891 122,892 122,891 122,891 122,891 122,890 123,890 123,891 123,890 123,891 123,889 123,890 123,889 124,890 124,890 124,891 124,889 124,889 124,889 124,891 124,892 125,888 125,890 125,890 125,888 125,889 125,890 125,890 126,891 126,889 126,890 126,890 126,892 126,888 126,889 127,890 127,890 127,889 127,892 127,891 127,889 127,891 127,891 128,888 128,890 128,890 128,889 128,890 128,892 128,892 129,888 129,893 129,890 129,892 129,892 129,888 129,889 130,891 130,890 130,892 130,891 130,890 130,890 130,890 130,891 131,890 131,891 131,892 131,871 131,879 131,889 131,891 131,887 131,891 132,891 132,890 132,889 132,889 132,892 132,888 132,891 133,892 133,891 133,888 133,888 133,890 133,891 133,892 133,890 134,890 134,891 134,891 134,890 134,889 134,891 134,890 135,890 135,892 135,892 135,889 135,891 135,891 135,891 136,889 136,890 136,890 136,893 136,891 136,890 136,890 136,892 137,891 137,888 137,889 137,890 137,893 137,891 137,890 138,891 138,892 138,891 138,891 138,889 138,891 138,890 139,888 139,887 139,889 139,887 139,886 139,884 139,884 139,888 140,890 140,891 140,887 140,877 140,875 140,865 140,888 140,886 140,873 140,871 140,875 140,879 140,872 141,889 141,886 141,877 141,888 141,886 141,887 141,880 141,855 141,856 141,861 141,874 141,860 141,876 141,867 141,881 141,871 141,890 142,886 142,874 142,863 142,889 142,879 142,890 142,867 142,878 142,889 142,876 142,879 142,879 142,871 143,875 143,860 143,887 143,877 143,881 143,868 143,887 143,879 143,875 143,878 143,880 143,879 143,857 143,887 143,858 143,880 143,871 143,889 143,870 144,891 144,888 144,880 144,885 144,886 144,878 144,888 144,890 145,882 145,887 145,877 145,877 145,883 145,888 145,886 145,887 145,875 145,888 145,881 146,888 146,887 146,877 146,881 146,892 146,885 146,876 146,886 146,877 146,882 146,880 146,876 147,882 147,878 147,876 147,887 147,893 147,882 147,874 147,887 147,881 147,883 147,883 148,882 148,880 148,889 148,879 148,881 148,886 148,884 148,881 148,886 148,873 148,884 148,889 149,887 149,883 149,884 149,889 149,888 149,887 149,887 149,889 149,887 149,891 149,884 149,885 150,884 150,884 150,888 150,884 150,874 150,891 150,886 150,887 150,888 151,891 151,890 151,883 151,885 151,883 151,889 151,882 151,884 152,888 152,884 152,889 152,893 152,885 152,883 152,885 153,887 153,887 153,884 153,890 153,889 153,886 153,892 154,888 154,891 154,888 154,889 154,889 154,894 154,891 154,887 155,888 155,890 155,892 155,890 155,890 155,890 155,891 156,889 156,888 156,888 156,886 156,891 156,886 156,882 157,891 157,887 157,890 157,889 157,874 157,878 157,890 157,888 157,885 157,888 158,886 158,889 158,890 158,892 158,888 158,889 158,889 159,889 159,888 159,890 159,889 159,891 159,891 159,889 160,892 160,890 160,893 160,889 160,894 160,888 160,893 160,894 161,890 161,889 161,891 161,893 161,891 161,891 161,890 162,891 162,890 162,893 162,888 162,891 162,892 162,892 163,892 163,893 163,889 163,890 163,890 163,892 163,889 163,887 164,891 164,889 164,890 164,891 164,888 164,891 164,892 165,890 165,893 165,891 165,891 165,890 165,889 165,889 166,891 166,891 166,890 166,893 166,890 166,890 166,892 166,889 167,891 167,891 167,889 167,891 167,890 167,893 167,890 168,890 168,887 168,892 168,892 168,890 168,890 168,892 169,888 169,889 169,889 169,889 169,889 169,890 169,888 169,891 170,891 170,888 170,890 170,891 170,892 170,891 170,888 171,890 171,887 171,891 171,888 171,890 171,890 171,890 172,890 172,886 172,888 172,889 172,889 172,891 172,888 172,888 173,888 173,887 173,892 173,881 173,885 173,887 173,886 174,886 174,887 174,883 174,891 174,889 174,891 174,889 175,885 175,884 175,885 175,884 175,884 175,888 175,889 175,878 176,882 176,882 176,885 176,891 176,887 176,889 176,889 177,889 177,885 177,878 177,879 177,885 177,885 177,884 178,886 178,885 178,880 178,891 178,891 178,890 178,885 178,884 179,886 179,890 179,890 179,886 179,890 179,888 179,888 180,891 180,888 180,886 180,890 180,890 180,887 180,889 181,891 181,891 181,891 181,889 181,890 181,889 181,890 181,889 182,890 182,887 182,890 182,889 182,890 182,889 182,891 183,888 183,891 183,889 183,889 183,889 183,892 183,892 184,888 184,892 184,891 184,890 184,890 184,894 184,887 184,891 185,892 185,892 185,891 185,891 185,890 185,891 185,890 186,889 186,889 186,889 186,892 186,888 186,890 186,891 187,892 187,891 187,891 187,890 187,891 187,891 187,889 187,890 188,889 188,891 188,891 188,889 188,889 188,890 188,889 189,892 189,892 189,891 189,891 189,891 189,885 189,887 190,893 190,890 190,891 190,887 190,885 190,891 190,884 190,890 191,887 191,885 191,886 191,888 191,891 191,888 191,881 192,885 192,880 192,891 192,888 192,888 192,889 192,882 193,888 193,884 193,880 193,881 193,877 193,889 193,886 193,886 194,887 194,885 194,890 194,890 194,891 194,884 194,887 195,888 195,885 195,881 195,882 195,886 195,888 195,887 196,885 196,885 196,886 196,889 196,886 196,883 196,887 196,885 197,889 197,888 197,887 197,885 197,890 197,886 197,889 198,886 198,891 198,890 198,890 198,890 198,891 198,888 199,891 199,888 199,887 199,890 199,889 199,890 199,890 199,889 200,892 200,888 200,890 200,891 200,892 200,889 200,892 201,890 201,891 201,890 201,889 201,892 201,890 201,888 202,889 202,888 202,890 202,892 202,889 202,891 202,891 202,893 203,891 203,888 203,890 203,890 203,892 203,889 203,889 204,892 204,891 204,892 204,891 204,890 204,890 204,891 205,890 205,892 205,890 205,890 205,887 205,888 205,890 205,889 206,889 206,891 206,888 206,891 206,888 206,890 206,889 207,889 207,888 207,892 207,890 207,888 207,893 207,888 208,889 208,890 208,891 208,891 208,891 208,888 208,890 208,891 209,892 209,889 209,891 209,889 209,890 209,889 209,888 210,890 210,889 210,890 210,891 210,889 210,890 210,889 211,891 211,890 211,890 211,890 211,890 211,891 211,890 211,888 212,889 212,890 212,889 212,890 212,891 212,890 212,888 213,889 213,889 213,888 213,889 213,889 213,889 213,890 214,889 214,890 214,890 214,890 214,891 214,889 214,891 214,891 215,891 215,890 215,889 215,892 215,891 215,889 215,893 216,889 216,893 216,890 216,890 216,891 216,892 216,890 217,888 217,890 217,891 217,890 217,891 217,890 217,890 217,892 218,890 218,890 218,892 218,890 218,889 218,890 218,889 219,891 219,892 219,889 219,891 219,892 219,893 219,890 220,893 220,892 220,891 220,894 220,889 220,889 220,890 220,893 221,891 221,892 221,890 221,877 221,890 221,890 221,890 221,890 222,890 222,889 222,891 222,889 222,890 222,891 222,889 223,891 223,891 223,888 223,893 223,889 223,888 223,891 223,889 224,889 224,888 224,891 224,893 224,891 224,892 224,889 225,893 225,891 225,892 225,891 225,888 225,893 225,892 226,890 226,889 226,889 226,889 226,891 226,890 226,888 226,891 227,890 227,885 227,887 227,888 227,892 227,888 227,890 228,885 228,889 228,891 228,886 228,884 228,883 228,883 229,884 229,893 229,883 229,887 229,847 229,851 229,860 229,862 229,873 229,883 229,884 229,885 229,892 230,890 230,890 230,890 230,886 230,886 230,891 230,892 231,887 231,885 231,890 231,889 231,886 231,888 231,886 232,889 232,883 232,882 232,884 232,891 232,886 232,885 232,887 233,892 233,890 233,887 233,889 233,887 233,891 233,891 234,887 234,888 234,885 234,890 234,893 234,891 234,893 235,890 235,892 235,892 235,891 235,892 235,889 235,889 235,890 236,891 236,890 236,894 236,888 236,889 236,891 236,891 237,893 237,892 237,889 237,890 237,891 237,889 237,890 238,890 238,891 238,893 238,892 238,890 238,890 238,893 238,893 239,891 239,891 239,888 239,893 239,891 239,892 239,889 240,890 240,889 240,890 240,889 240,891 240,890 240,890 241,891 241,892 241,889 241,892 241,890 241,889 241,893 241,892 242,889 242,891 242,892 242,890 242,892 242,890 242,890 243,890 243,892 243,890 243,891 243,891 243,889 243,890 244,891 244,891 244,890 244,890 244,890 244,889 244,892 244,888 245,891 245,891 245,890 245,891 245,888 245,890 245,891 246,889 246,890 246,889 246,888 246,891 246,888 246,889 247,892 247,888 247,889 247,889 247,892 247,890 247,892 247,888 248,889 248,890 248,888 248,888 248,889 248,892 248,890 249,891 249,890 249,890 249,890 249,889 249,890 249,889 250,889 250,890 250,890 250,890 250,890 250,893 250,892 250,892 251,890 251,888 251,888 251,892 251,889 251,892 251,891 252,890 252,890 252,890 252,892 252,891 252,889 252,891 253,890 253,891 253,890 253,888 253,886 253,889 253,888 254,891 254,884 254,891 254,884 254,889 254,886 254,887 254,886 255,883 255,885 255,891 255,891 255,891 255,889 255,891 256,890 256,891 256,891 256,892 256,892 256,892 256,889 257,888 257,890 257,890 257,890 257,891 257,891 257,888 257,892 258,890 258,892 258,890 258,888 258,888 258,888 258,892 259,890 259,892 259,888 259,890 259,888 259,892 259,892 260,889 260,891 260,888 260,890 260,888 260,888 260,888 260,891 261,890 261,889 261,891 261,887 261,885 261,891 261,882 262,891 262,887 262,887 262,887 262,889 262,887 262,890 263,888 263,882 263,885 263,886 263,882 263,891 263,886 263,890 264,881 264,891 264,876 264,876 264,891 264,881 264,888 264,892 264,873 264,888 264,883 265,885 265,875 265,885 265,891 265,887 265,882 265,878 265,886 265,882 265,892 266,887 266,879 266,883 266,889 266,878 266,880 266,883 266,885 266,876 266,889 266,886 266,883 266,888 267,889 267,873 267,884 267,877 267,879 267,882 267,877 267,877 267,885 267,886 267,891 268,887 268,880 268,883 268,884 268,886 268,889 268,883 268,884 268,885 269,889 269,885 269,885 269,886 269,884 269,885 269,884 269,886 270,886 270,882 270,879 270,887 270,879 270,878 270,887 271,880 271,888 271,878 271,886 271,884 271,879 271,878 272,878 272,883 272,886 272,883 272,876 272,876 272,876 272,888 273,888 273,888 273,883 273,878 273,886 273,888 273,881 274,886 274,885 274,886 274,880 274,881 274,883 274,888 275,888 275,892 275,890 275,882 275,890 275,887 275,889 275,887 276,887 276,888 276,891 276,885 276,887 276,887 276,889 277,889 277,885 277,889 277,891 277,890 277,893 277,888 278,890 278,890 278,889 278,890 278,890 278,889 278,889 278,890 279,891 279,892 279,889 279,893 279,886 279,884 279,883 280,886 280,886 280,891 280,887 280,891 280,883 280,884 281,884 281,884 281,889 281,889 281,886 281,886 281,881 281,882 282,882 282,885 282,888 282,890 282,881 282,885 282,888 283,889 283,885 283,886 283,885 283,891 283,891 283,890 284,891 284,889 284,887 284,890 284,889 284,891 284,889 284,891 285,890 285,893 285,889 285,892 285,890 285,890 285,891 286,887 286,890 286,892 286,891 286,890 286,892 286,892 287,892 287,889 287,890 287,888 287,890 287,890 287,889 287,888 288,889 288,889 288,888 288,892 288,890 288,889 288,893 289,887 289,891 289,889 289,888 289,888 289,890 289,889 290,893 290,891 290,887 290,891 290,889 290,888 290,890 290,889 291,890 291,887 291,889 291,890 291,890 291,888 291,889 292,889 292,888 292,888 292,884 292,888 292,886 292,884 293,890 293,883 293,885 293,887 293,879 293,882 293,887 293,881 294,883 294,887 294,887 294,884 294,885 294,888 294,887 295,891 295,890 295,888 295,887 295,882 295,890 295,890 296,892 296,889 296,889 296,885 296,891 296,888 296,886 296,889 297,886 297,883 297,886 297,888 297,884 297,888 297,883 298,879 298,881 298,885 298,887 298,883 298,879 298,891 299,884 299,883 299,887 299,883 299,884 299,888 299,887 299,888 300,890 300,888 300,890 300,890 300,889 300,890 300,889 301,890 301,890 301,889 301,891 301,889 301,889 301,890 302,890 302,891 302,889 302,889 302,889 302,890 302,891 302,892 303,889 303,892 303,891 303,889 303,890 303,890 303,892 304,893 304,890 304,889 304,891 304,889 304,891 304,891 305,889 305,892 305,891 305,889 305,891 305,891 305,891 305,892 306,889 306,891 306,888 306,888 306,890 306,890 306,888 307,886 307,883 307,887 307,884 307,875 307,876 307,885 307,886 307,887 308,889 308,880 308,889 308,883 308,878 308,879 308,883 308,887 308,891 309,888 309,887 309,889 309,889 309,889 309,890 309,887 310,890 310,892 310,891 310,887 310,890 310,892 310,892 311,890 311,891 311,889 311,891 311,890 311,890 311,890 311,893 312,889 312,891 312,890 312,891 312,892 312,888 312,892 313,887 313,888 313,890 313,889 313,890 313,892 313,890 314,892 314,890 314,888 314,891 314,889 314,890 314,888 314,890 315,888 315,890 315,888 315,888 315,890 315,891 315,890 316,889 316,892 316,891 316,890 316,892 316,892 316,892 317,889 317,891 317,891 317,890 317,891 317,887 317,891 317,890 318,891 318,889 318,891 318,889 318,890 318,889 318,888 319,888 319,893 319,890 319,892 319,889 319,887 319,890 320,891 320,890 320,889 320,890 320,891 320,890 320,888 320,890 321,889 321,891 321,893 321,891 321,889 321,891 321,890 322,889 322,890 322,890 322,890 322,891 322,888 322,891 323,891 323,889 323,889 323,889 323,889 323,889 323,889 323,888 324,890 324,890 324,890 324,890 324,890 324,891 324,889 325,890 325,890 325,890 325,891 325,891 325,890 325,891 326,889 326,892 326,889 326,890 326,891 326,891 326,889 326,892 327,893 327,890 327,890 327,891 327,892 327,891 327,890 328,893 328,890 328,892 328,889 328,889 328,892 328,892 329,891 329,892 329,891 329,890 329,893 329,890 329,891 329,891 330,892 330,893 330,891 330,890 330,893 330,888 330,888 331,891 331,891 331,894 331,891 331,890 331,888 331,891 332,891 332,890 332,892 332,891 332,891 332,891 332,891 332,892 333,890 333,889 333,891 333,889 333,891 333,890 333,890 334,890 334,892 334,890 334,890 334,889 334,887 334,891 335,892 335,889 335,888 335,890 335,890 335,891 335,888 335,891 336,892 336,889 336,890 336,890 336,892 336,892 336,890 337,889 337,891 337,892 337,889 337,892 337,892 337,889 338,891 338,891 338,890 338,889 338,891 338,892 338,891 338,890 339,892 339,894 339,890 339,893 339,889 339,890 339,889 340,891 340,891 340,890 340,889 340,890 340,894 340,888 341,892 341,892 341,892 341,892 341,889 341,890 341,889 341,892 342,893 342,890 342,889 342,891 342,892 342,889 342,889 343,893 343,892 343,889 343,891 343,891 343,891 343,891 344,890 344,890 344,892 344,891 344,893 344,890 344,891 344,892 345,889 345,893 345,889 345,885 345,886 345,883 345,884 346,885 346,885 346,886 346,886 346,882 346,882 346,875 346,874 346,881 346,878 347,886 347,879 347,884 347,878 347,877 347,878 347,879 347,875 347,888 347,897 347,898 347,888 347,879 347,881 347,876 347,883 347,886 348,886 348,891 348,872 348,893 348,880 348,884 348,883 348,883 348,885 348,886 348,885 348,889 349,885 349,890 349,888 349,886 349,891 349,890 349,890 350,886 350,889 350,893 350,885 350,887 350,885 350,889 350,886 351,891 351,889 351,885 351,887 351,884 351,887 351,884 352,885 352,888 352,886 352,885 352,888 352,886 352,885 353,891 353,893 353,886 353,888 353,889 353,889 353,890 353,890 354,889 354,890 354,889 354,888 354,890 354,889 354,889 355,892 355,889 355,887 355,891 355,890 355,888 355,891 356,888 356,891 356,890 356,891 356,892 356,892 356,891 356,891 357,889 357,892 357,891 357,891 357,892 357,888 357,890 358,892 358,893 358,888 358,892 358,890 358,889 358,888 359,889 359,890 359,891 359,890 359,890 359,890 359,891 359,890 360,888 360,892 360,890 360,891 360,889 360,889 360,890 361,891 361,890 361,891 361,890 361,890 361,890 361,890 362,889 362,889 362,892 362,889 362,891 362,891 362,893 362,891 363,888 363,888 363,892 363,890 363,890 363,891 363,891 364,891 364,890 364,889 364,890 364,889 364,889 364,889 365,889 365,891 365,892 365,892 365,891 365,890 365,889 365,889 366,890 366,891 366,892 366,890 366,892 366,892 366,888 367,890 367,892 367,891 367,890 367,892 367,889 367,890 368,892 368,892 368,889 368,892 368,890 368,894 368,891 368,892 369,890 369,891 369,891 369,891 369,891 369,893 369,890 370,889 370,889 370,891 370,889 370,892 370,893 370,891 371,888 371,886 371,891 371,890 371,888 371,889 371,884 371,883 372,883 372,889 372,889 372,875 372,886 372,883 372,890 372,891 373,883 373,888 373,889 373,886 373,888 373,888 373,889 374,892 374,890 374,888 374,891 374,892 374,891 374,890 374,892 375,892 375,891 375,890 375,891 375,894 375,891 375,892 376,889 376,891 376,890 376,892 376,889 376,889 376,893 377,891 377,893 377,890 377,889 377,894 377,886 377,890 377,881 378,892 378,882 378,880 378,889 378,881 378,876 378,877 378,887 379,877 379,885 379,877 379,876 379,880 379,874 379,889 379,890 379,877 379,888 379,888 379,873 379,883 380,888 380,874 380,887 380,879 380,878 380,881 380,884 380,875 380,879 380,890 380,883 380,888 380,885 381,887 381,885 381,890 381,889 381,889 381,888 381,887 382,891 382,891 382,891 382,891 382,890 382,892 382,892 383,889 383,892 383,892 383,888 383,890 383,892 383,892 383,891 384,887 384,887 384,888 384,887 384,889 384,886 384,889 385,888 385,887 385,887 385,888 385,889 385,891 385,883 386,878 386,890 386,890 386,874 386,875 386,876 386,889 386,877 387,876 387,868 387,873 387,869 387,891 387,874 387,882 387,873 388,876 388,872 388,886 388,884 388,871 388,890 388,873 388,876 388,880 388,888 389,879 389,887 389,875 389,886 389,890 389,879 389,884 389,885 389,873 389,886 389,885 389,884 390,884 390,887 390,891 390,886 390,888 390,885 390,886 390,877 390,873 390,883 390,886 390,888 390,879 390,883 391,871 391,881 391,886 391,886 391,878 391,874 391,886 391,881 391,885 391,882 391,884 392,883 392,874 392,884 392,886 392,885 392,886 392,874 392,887 392,881 392,881 392,888 392,881 393,882 393,888 393,879 393,878 393,878 393,881 393,887 393,888 394,882 394,885 394,881 394,881 394,877 394,883 394,877 395,888 395,889 395,888 395,884 395,892 395,884 395,891 396,891 396,890 396,889 396,888 396,890 396,891 396,889 396,883 397,892 397,890 397,889 397,890 397,886 397,887 397,889 398,886 398,888 398,885 398,887 398,883 398,888 398,888 399,891 399,883 399,884 399,885 399,889 399,884 399,884 399,881 400,887 400,881 400,886 400,888 400,889 400,890 400,886 401,889 401,888 401,883 401,884 401,886 401,880 401,885 402,880 402,880 402,891 402,886 402,889 402,879 402,884 402,889 403,883 403,889 403,890 403,883 403,887 403,888 403,885 404,882 404,893 404,878 404,888 404,890 404,883 404,887 405,882 405,887 405,880 405,885 405,891 405,884 405,889 405,889 406,888 406,890 406,888 406,888 406,885 406,890 406,886 407,890 407,888 407,888 407,887 407,888 407,888 407,888 408,886 408,883 408,888 408,887 408,886 408,886 408,892 408,884 409,888 409,892 409,888 409,891 409,888 409,890 409,883 410,891 410,889 410,889 410,891 410,888 410,888 410,891 411,886 411,889 411,883 411,888 411,881 411,891 411,887 411,893 412,879 412,885 412,881 412,882 412,885 412,886 412,891 413,886 413,890 413,880 413,890 413,891 413,885 413,883 414,885 414,890 414,889 414,891 414,891 414,885 414,889 414,888 415,889 415,887 415,885 415,887 415,890 415,885 415,889 416,884 416,886 416,886 416,887 416,889 416,881 416,889 417,887 417,886 417,891 417,887 417,884 417,881 417,880 417,886 418,884 418,885 418,883 418,885 418,886 418,885 418,881 419,887 419,880 419,886 419,881 419,884 419,879 419,890 420,885 420,886 420,884 420,891 420,888 420,889 420,887 420,883 421,884 421,886 421,890 421,891 421,888 421,886 421,885 422,886 422,887 422,890 422,888 422,885 422,888 422,887 423,886 423,889 423,888 423,889 423,885 423,891 423,882 423,888 424,889 424,886 424,882 424,885 424,891 424,888 424,890 425,891 425,891 425,890 425,886 425,886 425,890 425,884 426,891 426,888 426,892 426,888 426,889 426,888 426,889 426,888 427,888 427,888 427,888 427,891 427,890 427,892 427,889 428,891 428,889 428,890 428,892 428,890 428,890 428,893 429,891 429,891 429,890 429,888 429,891 429,892 429,888 429,891 430,891 430,891 430,891 430,890 430,890 430,889 430,892 431,889 431,892 431,890 431,890 431,890 431,890 431,891 432,893 432,891 432,891 432,891 432,891 432,891 432,891 432,888 433,890 433,890 433,888 433,890 433,889 433,887 433,889 434,891 434,890 434,893 434,888 434,889 434,887 434,889 435,889 435,884 435,890 435,886 435,890 435,889 435,888 435,884 436,878 436,884 436,887 436,880 436,890 436,886 436,884 437,887 437,890 437,889 437,883 437,882 437,892 437,883 438,889 438,890 438,889 438,888 438,887 438,888 438,889 438,890 439,892 439,888 439,891 439,890 439,890 439,890 439,892 440,890 440,888 440,889 440,892 440,889 440,890 440,891 441,890 441,891 441,890 441,891 441,890 441,893 441,891 441,888 442,891 442,891 442,889 442,889 442,888 442,891 442,890 443,889 443,891 443,892 443,890 443,891 443,890 443,888 444,891 444,890 444,892 444,890 444,892 444,890 444,889 444,891 445,891 445,890 445,888 445,892 445,890 445,890 445,890 446,890 446,890 446,889 446,888 446,890 446,889 446,891 447,889 447,890 447,889 447,891 447,891 447,892 447,890 447,890 448,888 448,890 448,889 448,887 448,889 448,888 448,889 449,887 449,886 449,887 449,888 449,890 449,892 449,886 450,887 450,887 450,886 450,884 450,887 450,888 450,884 450,889 451,885 451,887 451,880 451,887 451,882 451,887 451,882 452,879 452,886 452,879 452,881 452,861 452,863 452,867 452,883 452,879 452,884 452,885 452,885 452,880 453,885 453,883 453,882 453,888 453,884 453,887 453,884 453,889 453,882 453,889 453,884 454,889 454,877 454,887 454,889 454,882 454,886 454,884 454,889 454,891 454,890 455,886 455,887 455,888 455,891 455,889 455,890 455,891 456,892 456,891 456,891 456,888 456,889 456,888 456,891 456,890 457,888 457,891 457,890 457,891 457,891 457,889 457,888 458,889 458,891 458,888 458,889 458,890 458,891 458,889 459,889 459,890 459,890 459,889 459,889 459,892 459,891 459,891 460,892 460,892 460,888 460,893 460,890 460,890 460,890 461,894 461,890 461,890 461,889 461,892 461,892 461,889 462,892 462,890 462,890 462,891 462,891 462,892 462,889 462,889 463,891 463,890 463,892 463,891 463,892 463,893 463,892 464,889 464,890 464,890 464,892 464,888 464,891 464,889 465,892 465,889 465,892 465,888 465,889 465,891 465,889 465,889 466,889 466,890 466,893 466,889 466,888 466,891 466,891 467,890 467,891 467,891 467,890 467,890 467,892 467,891 468,889 468,891 468,889 468,889 468,892 468,889 468,889 468,891 469,889 469,888 469,889 469,890 469,888 469,889 469,889 470,890 470,890 470,890 470,890 470,882 470,891 470,890 471,883 471,889 471,888 471,891 471,856 471,861 471,866 471,870 471,872 471,886 471,884 471,881 471,888 472,883 472,889 472,886 472,886 472,888 472,888 472,891 473,890 473,890 473,889 473,891 473,889 473,889 473,889 474,892 474,894 474,889 474,889 474,888 474,891 474,892 474,889 475,889 475,892 475,891 475,890 475,889 475,890 475,892 476,889 476,892 476,890 476,891 476,892 476,889 476,891 477,889 477,891 477,891 477,888 477,893 477,891 477,890 477,890 478,890 478,889 478,891 478,890 478,890 478,891 478,890 479,891 479,891 479,890 479,890 479,889 479,890 479,888 480,889 480,888 480,889 480,891 480,890 480,889 480,890 480,891 481,888 481,890 481,890 481,893 481,888 481,888 481,890 482,891 482,888 482,889 482,891 482,890 482,888 482,892 483,890 483,892 483,891 483,891 483,889 483,893 483,888 483,891 484,891 484,893 484,891 484,889 484,891 484,891 484,892 485,892 485,890 485,890 485,892 485,891 485,891 485,889 486,890 486,892 486,892 486,893 486,890 486,889 486,889 486,891 487,893 487,889 487,890 487,889 487,892 487,889 487,891 488,891 488,891 488,889 488,891 488,892 488,889 488,892 489,892 489,890 489,890 489,891 489,891 489,890 489,889 489,892 490,891 490,888 490,891 490,892 490,888 490,890 490,891 491,891 491,891 491,892 491,889 491,894 491,891 491,889 492,892 492,889 492,893 492,888 492,891 492,890 492,891 492,891 493,891 493,891 493,891 493,889 493,892 493,890 493,891 494,892 494,889 494,890 494,888 494,890 494,892 494,893 495,890 495,892 495,891 495,889 495,888 495,890 495,892 495,890 496,889 496,889 496,891 496,892 496,889 496,891 496,890 497,890 497,892 497,888 497,890 497,890 497,890 497,891 498,890 498,891 498,891 498,888 498,890 498,888 498,890 498,892 499,889 499,889 499,888 499,890 499,890 499,890 499,891 500,891 500,890 500,890 500,887 500,892 500,890 500,891 501,893 501,892 501,892 501,891 501,889 501,889 501,890 501,888 502,889 502,889 502,890 502,891 502,886 502,885 502,890 503,888 503,883 503,888 503,881 503,872 503,884 503,875 503,885 503,880 503,872 503,880 503,868 503,872 504,891 504,873 504,877 504,886 504,886 504,884 504,888 504,868 504,870 504,889 504,886 504,889 505,868 505,888 505,883 505,882 505,874 505,866 505,874 505,897 505,899 505,870 505,876 505,878 505,874 505,871 505,869 505,877 505,880 506,870 506,885 506,874 506,888 506,886 506,868 506,887 506,869 506,885 506,886 506,887 506,886 506,877 506,883 506,883 506,868 506,861 506,887 506,862 506,879 506,875 506,884 506,888 507,862 507,889 507,862 507,879 507,885 507,891 507,873 507,881 507,863 507,887 507,885 507,883 507,862 507,883 507,889 507,862 507,873 507,872 507,875 508,868 508,885 508,859 508,888 508,877 508,888 508,876 508,891 508,879 508,891 509,888 509,881 509,886 509,880 509,889 509,886 509,883 510,881 510,882 510,881 510,881 510,887 510,889 510,890 510,887 511,890 511,887 511,891 511,892 511,890 511,889 511,888 512,891 512,889 512,888 512,890 512,888 512,891 512,892 513,888 513,886 513,885 513,886 513,887 513,881 513,886 513,882 513,858 513,884 513,883 513,881 513,866 513,857 513,877 514,872 514,873 514,869 514,855 514,871 514,856 514,882 514,876 514,874 514,868 514,889 514,870 514,873 514,891 514,878 514,887 514,886 514,874 514,876 514,883 514,863 515,863 515,880 515,886 515,881 515,861 515,865 515,868 515,875 515,879 515,852 515,854 515,860 515,882 515,887 515,873 515,878 515,887 515,880 516,878 516,874 516,886 516,882 516,878 516,884 516,867 516,886 516,880 516,861 516,881 516,888 516,890 516,880 516,881 516,880 516,892 516,885 516,889 517,874 517,880 517,877 517,882 517,887 517,882 517,871 517,875 517,885 517,886 517,886 517,889 517,883 517,878 518,876 518,879 518,876 518,876 518,873 518,888 518,884 518,889 518,888 518,879 518,886 518,876 518,887 519,887 519,883 519,882 519,887 519,887 519,887 519,886 519,885 519,877 520,885 520,891 520,888 520,873 520,887 520,887 520,884 520,889 520,879 520,886 520,884 520,889 521,888 521,890 521,884 521,881 521,888 521,884 521,880 521,887 521,890 522,889 522,888 522,881 522,889 522,874 522,887 522,889 522,880 522,876 522,888 522,888 522,892 523,889 523,890 523,888 523,888 523,886 523,888 523,888 523,887 524,886 524,890 524,888 524,891 524,890 524,893 524,884 525,889 525,887 525,886 525,892 525,886 525,888 525,888 526,889 526,884 526,888 526,882 526,891 526,890 526,887 526,886 527,888 527,884 527,887 527,889 527,891 527,882 527,889 528,887 528,889 528,891 528,888 528,888 528,889 528,889 529,887 529,888 529,891 529,886 529,887 529,889 529,890 529,888 530,888 530,888 530,887 530,889 530,891 530,888 530,891 531,891 531,888 531,889 531,890 531,889 531,891 531,891 532,888 532,890 532,891 532,891 532,891 532,890 532,893 532,892 533,894 533,890 533,889 533,894 533,890 533,890 533,890 534,888 534,890 534,891 534,891 534,890 534,891 534,888 535,892 535,890 535,893 535,890 535,892 535,893 535,889 535,891 536,890 536,891 536,891 536,892 536,889 536,891 536,892 537,890 537,890 537,891 537,889 537,889 537,892 537,889 538,891 538,892 538,889 538,891 538,890 538,891 538,889 538,890 539,889 539,890 539,891 539,890 539,887 539,889 539,888 540,886 540,891 540,886 540,886 540,886 540,886 540,887 541,887 541,885 541,886 541,887 541,888 541,883 541,885 541,883 542,887 542,885 542,881 542,885 542,886 542,882 542,884 543,884 543,886 543,881 543,887 543,890 543,887 543,885 544,883 544,888 544,881 544,888 544,888 544,888 544,883 544,884 545,886 545,884 545,885 545,890 545,885 545,884 545,886 546,886 546,885 546,886 546,889 546,886 546,888 546,886 547,888 547,887 547,891 547,886 547,890 547,881 547,889 547,886 548,880 548,891 548,884 548,881 548,879 548,884 548,891 549,891 549,888 549,882 549,890 549,884 549,886 549,887 550,889 550,889 550,887 550,891 550,888 550,888 550,889 550,892 551,890 551,888 551,892 551,888 551,888 551,892 551,891 552,890 552,890 552,890 552,892 552,890 552,891 552,889 553,890 553,892 553,893 553,892 553,891 553,893 553,888 553,891 554,889 554,891 554,892 554,891 554,890 554,890 554,891 555,891 555,892 555,891 555,890 555,888 555,888 555,890 556,891 556,892 556,890 556,890 556,891 556,891 556,891 556,888 557,892 557,890 557,891 557,893 557,891 557,889 557,892 558,890 558,888 558,890 558,890 558,892 558,891 558,892 559,889 559,888 559,894 559,893 559,891 559,890 559,893 559,889 560,892 560,890 560,892 560,888 560,889 560,890 560,892 561,891 561,892 561,893 561,888 561,889 561,892 561,892 562,890 562,889 562,888 562,889 562,889 562,891 562,888 562,888 563,889 563,890 563,889 563,886 563,892 563,887 563,888 564,891 564,886 564,888 564,883 564,887 564,892 564,882 565,885 565,892 565,882 565,881 565,890 565,878 565,885 565,880 566,882 566,886 566,887 566,888 566,884 566,884 566,887 567,888 567,890 567,886 567,890 567,887 567,888 567,889 568,891 568,887 568,890 568,887 568,891 568,891 568,890 568,891 569,889 569,890 569,892 569,892 569,889 569,892 569,888 570,891 570,892 570,892 570,892 570,891 570,891 570,889 571,892 571,891 571,890 571,892 571,890 571,892 571,891 571,892 572,891 572,892 572,889 572,893 572,891 572,889 572,889 573,890 573,890 573,891 573,889 573,889 573,889 573,889 574,887 574,888 574,888 574,885 574,888 574,887 574,890 574,882 575,886 575,889 575,881 575,883 575,882 575,889 575,888 576,887 576,888 576,890 576,881 576,889 576,889 576,886 577,888 577,888 577,888 577,888 577,888 577,892 577,888 577,889 578,889 578,889 578,890 578,891 578,889 578,891 578,891 579,887 579,886 579,889 579,892 579,886 579,890 579,889 580,889 580,889 580,891 580,888 580,888 580,887 580,888 580,889 581,887 581,886 581,889 581,867 581,885 581,865 581,870 581,889 581,870 581,883 581,864 581,875 581,884 581,889 581,888 582,886 582,887 582,878 582,889 582,886 582,869 582,887 582,887 582,885 582,887 582,877 582,876 582,875 582,887 582,880 583,873 583,884 583,885 583,869 583,882 583,871 583,883 583,884 583,887 583,886 583,869 583,889 583,887 583,871 583,883 583,889 583,878 583,869 583,879 583,868 583,883 584,885 584,881 584,877 584,888 584,883 584,864 584,888 584,886 584,888 584,865 584,889 584,889 584,872 584,883 584,884 585,885 585,888 585,882 585,871 585,863 585,882 585,877 585,885 585,890 585,877 585,873 585,888 585,875 585,882 585,878 585,886 585,886 585,882 585,869 585,878 585,874 585,883 585,878 585,888 585,862 585,887 586,879 586,865 586,882 586,888 586,885 586,870 586,884 586,870 586,885 586,868 586,890 587,887 587,878 587,887 587,886 587,864 587,886 587,875 587,877 587,881 587,883 587,877 588,865 588,886 588,879 588,868 588,867 588,875 588,859 588,860 588,870 588,867 588,868 588,879 588,862 588,887 588,879 588,870 588,861 589,880 589,869 589,876 589,869 589,875 589,887 589,879 589,885 589,885 589,885 589,882 589,869 589,878 589,882 589,884 590,882 590,863 590,883 590,869 590,887 590,872 590,878 590,884 590,888 590,872 590,880 590,879 590,874 590,877 590,886 590,889 590,871 590,887 590,879 591,873 591,882 591,865 591,882 591,887 591,886 591,877 591,883 591,885 591,884 591,881 591,885 592,888 592,885 592,871 600,848 600,855" fill="none" stroke="none" marker-start="url(#mb)" marker-mid="url(#mb)" marker-end="url(#mb)" clip-path="url(#c6)"/>
<polyline points="54,886 54,887 54,883 54,901 55,879 55,883 55,882 55,897 55,883 55,884 55,901 56,874 56,895 56,889 56,890 56,886 56,885 56,885 57,885 57,887 57,892 57,881 57,888 57,893 57,892 57,889 58,884 58,889 58,884 58,887 58,887 58,879 58,877 59,887 59,883 59,882 59,891 59,890 59,884 59,891 60,894 60,886 60,886 60,887 60,859 60,861 60,881 60,891 60,884 60,886 61,886 61,889 61,875 61,894 61,896 61,887 61,896 62,885 62,887 62,896 62,877 62,892 62,882 62,890 63,890 63,886 63,881 63,886 63,872 63,878 63,888 63,887 63,891 64,900 64,875 64,883 64,889 64,888 64,891 64,893 65,890 65,893 65,893 65,890 65,893 65,891 65,892 66,893 66,893 66,891 66,892 66,890 66,890 66,893 66,891 67,891 67,891 67,891 67,892 67,892 67,892 67,893 68,893 68,892 68,892 68,893 68,891 68,893 68,893 69,891 69,893 69,890 69,891 69,890 69,891 69,891 69,893 70,892 70,893 70,893 70,891 70,893 70,892 70,891 71,891 71,891 71,892 71,891 71,892 71,892 71,892 72,892 72,891 72,892 72,892 72,892 72,892 72,892 72,893 73,891 73,892 73,891 73,893 73,892 73,893 73,890 74,891 74,890 74,893 74,891 74,890 74,890 74,890 75,890 75,891 75,891 75,892 75,891 75,892 75,892 75,891 76,891 76,891 76,892 76,892 76,893 76,891 76,893 77,893 77,890 77,891 77,892 77,893 77,890 77,892 78,892 78,893 78,893 78,890 78,892 78,892 78,892 78,892 79,891 79,892 79,892 79,892 79,892 79,893 79,891 80,890 80,892 80,892 80,892 80,892 80,890 80,893 81,893 81,892 81,892 81,892 81,893 81,893 81,893 81,890 82,892 82,892 82,891 82,892 82,891 82,893 82,891 83,893 83,892 83,892 83,891 83,892 83,892 83,892 84,892 84,892 84,891 84,892 84,890 84,892 84,893 84,892 85,891 85,893 85,892 85,891 85,890 85,891 85,890 86,891 86,891 86,890 86,893 86,891 86,890 86,891 87,890 87,893 87,892 87,892 87,891 87,892 87,892 87,892 88,892 88,893 88,891 88,892 88,891 88,892 88,891 89,893 89,891 89,892 89,891 89,891 89,891 89,892 90,892 90,891 90,892 90,891 90,892 90,891 90,890 90,891 91,891 91,891 91,890 91,890 91,890 91,893 91,892 92,890 92,891 92,891 92,891 92,890 92,893 92,890 93,892 93,892 93,893 93,890 93,891 93,889 93,891 93,888 94,889 94,888 94,887 94,892 94,888 94,893 94,890 95,890 95,887 95,886 95,891 95,861 95,864 95,869 95,886 95,885 95,885 95,892 95,882 96,886 96,879 96,887 96,883 96,890 96,881 96,885 96,882 96,890 96,882 96,876 96,887 96,877 96,890 96,892 96,875 96,889 97,876 97,889 97,889 97,888 97,883 97,886 97,887 97,892 97,889 97,892 97,888 98,891 98,890 98,892 98,892 98,891 98,891 98,891 99,893 99,890 99,892 99,892 99,893 99,890 99,891 99,893 100,890 100,892 100,891 100,893 100,891 100,892 100,893 101,890 101,890 101,891 101,893 101,892 101,893 101,892 102,890 102,892 102,891 102,892 102,890 102,891 102,892 102,892 103,891 103,893 103,893 103,892 103,890 103,891 103,891 104,893 104,890 104,891 104,891 104,892 104,891 104,891 105,892 105,891 105,892 105,892 105,891 105,893 105,893 105,890 106,892 106,892 106,891 106,891 106,893 106,891 106,892 107,892 107,893 107,890 107,890 107,890 107,893 107,892 108,890 108,891 108,890 108,892 108,890 108,890 108,891 108,893 109,893 109,892 109,891 109,890 109,892 109,891 109,892 110,890 110,892 110,892 110,893 110,892 110,891 110,893 111,892 111,891 111,891 111,893 111,890 111,891 111,893 111,890 112,892 112,893 112,893 112,892 112,893 112,893 112,892 113,891 113,891 113,890 113,891 113,892 113,893 113,892 114,890 114,890 114,888 114,889 114,887 114,887 114,887 114,888 115,886 115,886 115,886 115,886 115,890 115,881 115,889 116,891 116,887 116,892 116,888 116,870 116,875 116,892 116,886 116,885 117,884 117,887 117,889 117,889 117,890 117,889 117,888 117,891 118,891 118,891 118,892 118,893 118,890 118,890 118,891 119,892 119,893 119,890 119,893 119,890 119,892 119,892 120,893 120,893 120,893 120,891 120,893 120,893 120,891 120,892 121,893 121,893 121,891 121,891 121,891 121,891 121,892 122,891 122,891 122,893 122,892 122,893 122,893 122,890 123,892 123,893 123,892 123,892 123,892 123,891 123,891 124,892 124,891 124,891 124,891 124,891 124,891 124,893 124,892 125,890 125,892 125,891 125,890 125,891 125,890 125,890 126,893 126,891 126,892 126,891 126,893 126,890 126,890 127,892 127,891 127,891 127,892 127,892 127,892 127,891 127,892 128,890 128,890 128,892 128,890 128,890 128,892 128,892 129,891 129,893 129,892 129,893 129,892 129,890 129,891 130,892 130,891 130,893 130,892 130,892 130,891 130,890 130,893 131,892 131,892 131,893 131,873 131,882 131,890 131,893 131,890 131,891 132,891 132,893 132,891 132,890 132,893 132,890 132,892 133,892 133,893 133,891 133,890 133,892 133,892 133,892 133,890 134,891 134,892 134,892 134,892 134,890 134,892 134,891 135,892 135,891 135,893 135,891 135,891 135,893 135,892 136,892 136,892 136,892 136,893 136,891 136,892 136,890 136,893 137,891 137,891 137,891 137,892 137,892 137,892 137,891 138,891 138,891 138,892 138,892 138,890 138,891 138,890 139,890 139,889 139,891 139,888 139,887 139,886 139,885 139,888 140,892 140,891 140,889 140,879 140,875 140,866 140,888 140,888 140,875 140,873 140,876 140,881 140,874 141,891 141,888 141,878 141,889 141,886 141,888 141,879 141,855 141,858 141,862 141,874 141,861 141,878 141,869 141,883 141,873 141,889 142,887 142,875 142,865 142,891 142,881 142,890 142,867 142,880 142,889 142,877 142,881 142,878 142,873 143,876 143,862 143,888 143,879 143,881 143,868 143,887 143,879 143,876 143,881 143,882 143,879 143,859 143,888 143,859 143,882 143,872 143,891 143,873 144,892 144,891 144,882 144,885 144,887 144,880 144,890 144,890 145,884 145,889 145,878 145,879 145,883 145,891 145,888 145,888 145,877 145,890 145,883 146,890 146,887 146,878 146,883 146,893 146,887 146,877 146,887 146,877 146,883 146,880 146,877 147,883 147,881 147,877 147,887 147,893 147,884 147,874 147,889 147,882 147,884 147,885 148,884 148,883 148,891 148,879 148,883 148,888 148,884 148,883 148,885 148,874 148,884 148,890 149,889 149,884 149,885 149,890 149,889 149,888 149,888 149,891 149,888 149,892 149,884 149,885 150,884 150,885 150,890 150,885 150,877 150,892 150,888 150,888 150,888 151,893 151,891 151,885 151,887 151,885 151,890 151,884 151,885 152,889 152,884 152,890 152,893 152,887 152,884 152,884 153,888 153,889 153,886 153,893 153,890 153,889 153,892 154,889 154,892 154,889 154,891 154,890 154,893 154,892 154,889 155,889 155,891 155,892 155,892 155,891 155,891 155,893 156,891 156,889 156,889 156,888 156,893 156,888 156,884 157,893 157,889 157,892 157,891 157,874 157,880 157,891 157,889 157,886 157,889 158,887 158,891 158,890 158,892 158,889 158,890 158,891 159,891 159,890 159,890 159,891 159,892 159,892 159,891 160,892 160,892 160,893 160,891 160,893 160,890 160,894 160,894 161,892 161,891 161,891 161,893 161,892 161,892 161,892 162,891 162,891 162,893 162,891 162,891 162,894 162,893 163,893 163,893 163,891 163,890 163,892 163,892 163,892 163,890 164,893 164,891 164,891 164,892 164,890 164,893 164,893 165,891 165,894 165,892 165,893 165,891 165,892 165,890 166,893 166,892 166,892 166,893 166,892 166,893 166,892 166,890 167,893 167,892 167,891 167,892 167,891 167,893 167,892 168,892 168,890 168,893 168,892 168,892 168,892 168,892 169,890 169,892 169,891 169,890 169,892 169,891 169,889 169,891 170,892 170,890 170,891 170,891 170,892 170,892 170,891 171,891 171,888 171,893 171,890 171,891 171,891 171,891 172,891 172,888 172,889 172,890 172,890 172,891 172,890 172,889 173,890 173,888 173,892 173,884 173,887 173,888 173,888 174,886 174,889 174,885 174,891 174,891 174,891 174,890 175,886 175,887 175,886 175,885 175,884 175,890 175,892 175,880 176,882 176,882 176,886 176,892 176,889 176,889 176,891 177,891 177,887 177,880 177,881 177,886 177,886 177,884 178,887 178,886 178,883 178,892 178,891 178,891 178,887 178,885 179,887 179,892 179,892 179,888 179,891 179,889 179,889 180,892 180,890 180,887 180,891 180,889 180,888 180,891 181,892 181,892 181,892 181,891 181,892 181,891 181,892 181,891 182,890 182,890 182,892 182,890 182,892 182,890 182,893 183,889 183,892 183,891 183,891 183,890 183,893 183,893 184,890 184,892 184,893 184,891 184,891 184,893 184,890 184,891 185,893 185,892 185,891 185,892 185,892 185,891 185,891 186,891 186,891 186,891 186,893 186,890 186,892 186,892 187,892 187,892 187,892 187,892 187,893 187,891 187,891 187,892 188,891 188,891 188,891 188,890 188,891 188,892 188,890 189,892 189,892 189,891 189,891 189,892 189,887 189,889 190,893 190,892 190,893 190,889 190,886 190,892 190,886 190,892 191,889 191,886 191,887 191,890 191,892 191,888 191,883 192,886 192,882 192,892 192,889 192,889 192,890 192,883 193,890 193,885 193,881 193,883 193,880 193,889 193,888 193,887 194,889 194,887 194,892 194,890 194,893 194,886 194,888 195,888 195,887 195,882 195,883 195,885 195,888 195,889 196,887 196,886 196,888 196,890 196,887 196,885 196,889 196,886 197,889 197,888 197,889 197,887 197,891 197,888 197,891 198,888 198,892 198,892 198,892 198,891 198,891 198,890 199,893 199,891 199,890 199,891 199,891 199,891 199,892 199,891 200,893 200,891 200,891 200,891 200,893 200,891 200,892 201,892 201,892 201,891 201,890 201,892 201,891 201,890 202,892 202,890 202,891 202,893 202,892 202,892 202,893 202,893 203,892 203,890 203,891 203,893 203,893 203,891 203,891 204,892 204,890 204,892 204,892 204,891 204,891 204,890 205,891 205,892 205,892 205,892 205,890 205,890 205,891 205,890 206,890 206,892 206,890 206,893 206,890 206,890 206,890 207,890 207,890 207,893 207,892 207,890 207,893 207,890 208,890 208,891 208,892 208,892 208,893 208,890 208,892 208,891 209,891 209,891 209,891 209,891 209,891 209,891 209,890 210,891 210,890 210,891 210,893 210,890 210,891 210,892 211,892 211,892 211,892 211,892 211,891 211,893 211,892 211,891 212,891 212,891 212,891 212,892 212,892 212,890 212,890 213,890 213,891 213,890 213,892 213,891 213,890 213,891 214,891 214,891 214,892 214,892 214,892 214,891 214,892 214,892 215,892 215,892 215,891 215,893 215,891 215,892 215,893 216,890 216,893 216,891 216,891 216,893 216,893 216,892 217,891 217,892 217,893 217,891 217,892 217,891 217,892 217,892 218,892 218,891 218,893 218,891 218,891 218,892 218,890 219,893 219,893 219,891 219,892 219,891 219,894 219,892 220,893 220,894 220,892 220,894 220,890 220,891 220,891 220,893 221,893 221,893 221,893 221,879 221,892 221,891 221,891 221,891 222,891 222,891 222,892 222,891 222,891 222,891 222,891 223,893 223,893 223,890 223,893 223,890 223,890 223,893 223,891 224,891 224,890 224,893 224,893 224,891 224,893 224,891 225,893 225,893 225,891 225,892 225,890 225,892 225,891 226,892 226,891 226,890 226,890 226,892 226,892 226,890 226,893 227,891 227,887 227,890 227,889 227,893 227,889 227,892 228,886 228,890 228,893 228,886 228,886 228,885 228,885 229,886 229,892 229,885 229,888 229,848 229,853 229,861 229,863 229,874 229,884 229,884 229,885 229,891 230,891 230,892 230,890 230,888 230,889 230,892 230,892 231,888 231,887 231,892 231,890 231,888 231,888 231,888 232,891 232,884 232,884 232,886 232,893 232,886 232,886 232,888 233,891 233,890 233,888 233,889 233,888 233,891 233,892 234,889 234,889 234,887 234,892 234,893 234,892 234,893 235,890 235,891 235,892 235,892 235,893 235,891 235,890 235,892 236,892 236,891 236,894 236,891 236,891 236,893 236,893 237,894 237,894 237,891 237,892 237,891 237,890 237,891 238,890 238,893 238,894 238,893 238,891 238,892 238,893 238,893 239,890 239,892 239,890 239,893 239,892 239,893 239,891 240,892 240,891 240,892 240,891 240,893 240,892 240,891 241,890 241,893 241,891 241,892 241,892 241,890 241,893 241,893 242,891 242,891 242,893 242,891 242,892 242,891 242,892 243,890 243,892 243,892 243,891 243,893 243,891 243,892 244,892 244,893 244,892 244,891 244,892 244,890 244,892 244,890 245,890 245,892 245,891 245,892 245,890 245,892 245,892 246,891 246,891 246,892 246,890 246,893 246,890 246,890 247,891 247,890 247,890 247,891 247,891 247,892 247,893 247,891 248,891 248,892 248,891 248,891 248,892 248,893 248,892 249,892 249,892 249,890 249,890 249,892 249,892 249,892 250,891 250,891 250,892 250,892 250,891 250,893 250,893 250,893 251,892 251,890 251,890 251,892 251,890 251,892 251,893 252,892 252,892 252,892 252,891 252,890 252,891 252,893 253,890 253,891 253,890 253,888 253,888 253,888 253,889 254,891 254,885 254,892 254,883 254,891 254,888 254,889 254,887 255,886 255,885 255,892 255,892 255,892 255,891 255,893 256,892 256,893 256,892 256,893 256,892 256,893 256,891 257,891 257,892 257,890 257,892 257,892 257,893 257,891 257,893 258,891 258,892 258,891 258,890 258,890 258,890 258,892 259,892 259,893 259,890 259,891 259,889 259,892 259,892 260,890 260,891 260,889 260,891 260,890 260,890 260,890 260,892 261,890 261,891 261,891 261,887 261,886 261,893 261,884 262,892 262,888 262,888 262,889 262,889 262,889 262,892 263,888 263,882 263,888 263,887 263,884 263,893 263,888 263,890 264,882 264,890 264,877 264,877 264,890 264,884 264,889 264,892 264,876 264,890 264,884 265,887 265,877 265,886 265,893 265,889 265,884 265,879 265,888 265,884 265,892 266,889 266,879 266,883 266,891 266,880 266,882 266,885 266,886 266,878 266,889 266,887 266,885 266,890 267,890 267,876 267,884 267,879 267,882 267,883 267,879 267,877 267,885 267,887 267,892 268,889 268,882 268,885 268,884 268,888 268,891 268,883 268,886 268,886 269,890 269,887 269,886 269,885 269,885 269,887 269,886 269,889 270,887 270,882 270,880 270,888 270,881 270,877 270,888 271,881 271,890 271,878 271,887 271,886 271,881 271,881 272,880 272,884 272,888 272,884 272,878 272,877 272,877 272,889 273,889 273,890 273,883 273,880 273,889 273,889 273,882 274,887 274,885 274,889 274,880 274,883 274,886 274,889 275,889 275,893 275,892 275,881 275,890 275,888 275,891 275,889 276,887 276,890 276,892 276,885 276,890 276,887 276,891 277,889 277,887 277,890 277,892 277,890 277,893 277,890 278,890 278,891 278,889 278,891 278,890 278,891 278,890 278,891 279,891 279,893 279,889 279,893 279,888 279,886 279,885 280,887 280,886 280,891 280,888 280,892 280,884 280,884 281,885 281,884 281,891 281,889 281,888 281,888 281,882 281,883 282,884 282,886 282,889 282,892 282,883 282,887 282,889 283,891 283,887 283,887 283,885 283,892 283,890 283,891 284,891 284,890 284,889 284,891 284,889 284,893 284,891 284,892 285,891 285,893 285,891 285,892 285,892 285,890 285,891 286,889 286,891 286,892 286,893 286,892 286,893 286,892 287,891 287,890 287,892 287,890 287,891 287,892 287,890 287,890 288,891 288,891 288,891 288,892 288,890 288,891 288,892 289,890 289,892 289,891 289,890 289,890 289,891 289,891 290,892 290,892 290,889 290,892 290,891 290,890 290,890 290,891 291,891 291,889 291,890 291,892 291,892 291,889 291,890 292,890 292,889 292,887 292,886 292,890 292,888 292,885 293,891 293,885 293,887 293,888 293,882 293,883 293,887 293,882 294,883 294,889 294,889 294,886 294,885 294,890 294,888 295,892 295,889 295,891 295,887 295,883 295,890 295,892 296,892 296,891 296,889 296,885 296,893 296,890 296,888 296,891 297,888 297,885 297,886 297,890 297,885 297,888 297,885 298,880 298,882 298,887 298,888 298,885 298,882 298,893 299,886 299,884 299,887 299,885 299,885 299,890 299,890 299,890 300,892 300,888 300,890 300,892 300,891 300,892 300,891 301,891 301,891 301,892 301,893 301,891 301,891 301,891 302,892 302,892 302,892 302,890 302,891 302,892 302,893 302,892 303,891 303,892 303,892 303,891 303,892 303,892 303,893 304,893 304,891 304,890 304,891 304,891 304,893 304,891 305,891 305,893 305,893 305,891 305,892 305,891 305,892 305,892 306,892 306,892 306,890 306,889 306,892 306,890 306,889 307,887 307,884 307,889 307,886 307,874 307,878 307,887 307,887 307,888 308,889 308,881 308,890 308,885 308,881 308,880 308,884 308,887 308,892 309,889 309,889 309,891 309,891 309,891 309,891 309,889 310,892 310,892 310,891 310,890 310,892 310,892 310,893 311,892 311,892 311,892 311,893 311,892 311,891 311,891 311,893 312,892 312,893 312,892 312,892 312,893 312,890 312,893 313,890 313,890 313,892 313,892 313,893 313,893 313,892 314,893 314,891 314,891 314,891 314,891 314,892 314,891 314,890 315,890 315,892 315,890 315,890 315,891 315,893 315,892 316,891 316,893 316,892 316,891 316,892 316,892 316,892 317,891 317,892 317,892 317,891 317,892 317,890 317,893 317,892 318,891 318,891 318,891 318,891 318,892 318,890 318,890 319,890 319,893 319,891 319,893 319,890 319,890 319,891 320,892 320,891 320,891 320,892 320,891 320,892 320,891 320,892 321,891 321,893 321,893 321,892 321,891 321,892 321,891 322,890 322,892 322,891 322,890 322,892 322,890 322,893 323,892 323,890 323,890 323,890 323,891 323,891 323,891 323,891 324,891 324,891 324,892 324,891 324,892 324,893 324,891 325,891 325,893 325,891 325,893 325,893 325,891 325,891 326,890 326,892 326,891 326,892 326,891 326,893 326,891 326,891 327,892 327,892 327,892 327,892 327,893 327,893 327,892 328,893 328,892 328,893 328,891 328,891 328,892 328,893 329,893 329,892 329,893 329,892 329,894 329,891 329,892 329,893 330,892 330,892 330,892 330,892 330,894 330,891 330,890 331,894 331,891 331,894 331,892 331,892 331,890 331,891 332,893 332,892 332,892 332,893 332,893 332,893 332,893 332,893 333,892 333,891 333,893 333,890 333,892 333,892 333,891 334,892 334,893 334,890 334,891 334,892 334,890 334,893 335,893 335,891 335,890 335,891 335,891 335,891 335,890 335,892 336,892 336,891 336,892 336,892 336,892 336,892 336,892 337,891 337,891 337,891 337,891 337,893 337,892 337,891 338,891 338,891 338,892 338,890 338,893 338,893 338,892 338,891 339,892 339,893 339,891 339,892 339,891 339,892 339,891 340,891 340,891 340,892 340,891 340,891 340,893 340,890 341,893 341,893 341,893 341,893 341,890 341,891 341,891 341,893 342,893 342,891 342,891 342,893 342,891 342,890 342,891 343,893 343,893 343,891 343,892 343,893 343,892 343,892 344,891 344,892 344,893 344,891 344,892 344,891 344,892 344,893 345,890 345,893 345,890 345,888 345,888 345,885 345,885 346,887 346,885 346,886 346,886 346,882 346,883 346,877 346,875 346,882 346,880 347,886 347,880 347,885 347,880 347,878 347,880 347,881 347,878 347,890 347,899 347,900 347,890 347,880 347,883 347,878 347,885 347,887 348,888 348,891 348,874 348,893 348,882 348,884 348,885 348,884 348,885 348,887 348,885 348,890 349,886 349,892 349,890 349,889 349,892 349,890 349,891 350,888 350,891 350,893 350,887 350,889 350,887 350,891 350,887 351,891 351,890 351,887 351,889 351,885 351,887 351,886 352,887 352,890 352,886 352,887 352,889 352,887 352,887 353,891 353,893 353,889 353,891 353,889 353,891 353,890 353,890 354,891 354,892 354,891 354,890 354,891 354,891 354,891 355,892 355,890 355,890 355,892 355,892 355,890 355,893 356,890 356,892 356,892 356,893 356,893 356,893 356,893 356,893 357,890 357,893 357,893 357,893 357,893 357,890 357,891 358,892 358,893 358,890 358,893 358,892 358,891 358,891 359,890 359,892 359,893 359,891 359,892 359,891 359,892 359,893 360,891 360,892 360,891 360,892 360,891 360,891 360,892 361,891 361,892 361,892 361,892 361,891 361,892 361,890 362,890 362,891 362,892 362,890 362,892 362,891 362,892 362,892 363,890 363,890 363,892 363,892 363,891 363,893 363,893 364,891 364,892 364,892 364,891 364,891 364,890 364,890 365,891 365,892 365,893 365,892 365,893 365,891 365,892 365,890 366,892 366,891 366,893 366,892 366,893 366,893 366,890 367,892 367,892 367,893 367,891 367,892 367,890 367,893 368,891 368,893 368,892 368,893 368,892 368,893 368,892 368,894 369,892 369,891 369,892 369,892 369,893 369,894 369,892 370,890 370,891 370,893 370,891 370,892 370,893 370,893 371,890 371,888 371,891 371,892 371,889 371,890 371,885 371,884 372,885 372,890 372,891 372,877 372,888 372,884 372,890 372,891 373,885 373,890 373,890 373,887 373,890 373,890 373,891 374,893 374,892 374,891 374,892 374,893 374,893 374,892 374,892 375,893 375,892 375,891 375,891 375,894 375,893 375,892 376,891 376,892 376,891 376,892 376,890 376,890 376,893 377,893 377,893 377,892 377,892 377,894 377,887 377,891 377,883 378,891 378,884 378,882 378,890 378,882 378,877 378,879 378,889 379,878 379,887 379,879 379,877 379,881 379,875 379,890 379,890 379,878 379,888 379,890 379,875 379,886 380,889 380,876 380,888 380,881 380,880 380,882 380,885 380,876 380,881 380,892 380,885 380,887 380,888 381,888 381,886 381,891 381,891 381,891 381,891 381,889 382,891 382,891 382,893 382,892 382,890 382,893 382,893 383,892 383,891 383,892 383,890 383,892 383,892 383,893 383,892 384,889 384,889 384,889 384,888 384,889 384,887 384,890 385,890 385,888 385,889 385,889 385,890 385,893 385,884 386,880 386,891 386,891 386,876 386,878 386,878 386,891 386,878 387,877 387,871 387,875 387,871 387,892 387,876 387,883 387,875 388,876 388,874 388,889 388,886 388,872 388,890 388,874 388,878 388,881 388,889 389,881 389,887 389,876 389,888 389,890 389,880 389,886 389,885 389,872 389,887 389,886 389,885 390,887 390,888 390,893 390,888 390,890 390,887 390,887 390,879 390,874 390,885 390,887 390,888 390,881 390,884 391,873 391,884 391,887 391,887 391,880 391,876 391,888 391,883 391,885 391,884 391,885 392,885 392,876 392,886 392,888 392,886 392,887 392,874 392,889 392,883 392,883 392,890 392,883 393,884 393,888 393,880 393,880 393,881 393,882 393,889 393,889 394,883 394,887 394,883 394,883 394,879 394,884 394,879 395,890 395,889 395,889 395,884 395,892 395,886 395,891 396,891 396,891 396,891 396,889 396,890 396,893 396,891 396,885 397,892 397,890 397,889 397,891 397,888 397,888 397,890 398,888 398,890 398,886 398,889 398,885 398,890 398,890 399,892 399,885 399,886 399,887 399,891 399,883 399,885 399,883 400,888 400,881 400,888 400,887 400,890 400,890 400,888 401,891 401,888 401,884 401,886 401,888 401,882 401,885 402,880 402,881 402,892 402,887 402,891 402,881 402,885 402,891 403,885 403,891 403,891 403,883 403,887 403,889 403,886 404,884 404,892 404,880 404,890 404,891 404,884 404,889 405,884 405,889 405,882 405,887 405,891 405,886 405,889 405,889 406,888 406,892 406,890 406,890 406,887 406,890 406,888 407,890 407,890 407,889 407,889 407,889 407,890 407,890 408,886 408,885 408,890 408,888 408,887 408,888 408,892 408,886 409,889 409,892 409,890 409,892 409,889 409,892 409,883 410,892 410,891 410,890 410,892 410,890 410,890 410,891 411,887 411,890 411,884 411,889 411,882 411,891 411,889 411,892 412,881 412,887 412,882 412,884 412,886 412,886 412,891 413,888 413,891 413,882 413,891 413,891 413,888 413,883 414,886 414,891 414,891 414,891 414,891 414,885 414,890 414,890 415,889 415,889 415,885 415,889 415,891 415,886 415,888 416,886 416,888 416,888 416,888 416,890 416,883 416,889 417,889 417,887 417,891 417,887 417,885 417,882 417,880 417,887 418,884 418,886 418,884 418,886 418,886 418,886 418,881 419,887 419,881 419,888 419,882 419,885 419,880 419,892 420,886 420,887 420,885 420,891 420,888 420,890 420,887 420,886 421,886 421,888 421,892 421,892 421,890 421,888 421,887 422,888 422,887 422,890 422,888 422,887 422,888 422,889 423,886 423,889 423,890 423,891 423,887 423,892 423,884 423,890 424,890 424,889 424,884 424,886 424,891 424,890 424,891 425,891 425,893 425,891 425,887 425,889 425,891 425,885 426,892 426,890 426,892 426,888 426,890 426,890 426,890 426,890 427,890 427,890 427,890 427,892 427,891 427,892 427,891 428,891 428,891 428,892 428,892 428,892 428,892 428,894 429,892 429,893 429,891 429,891 429,892 429,892 429,890 429,892 430,892 430,893 430,893 430,892 430,891 430,891 430,892 431,891 431,894 431,892 431,893 431,891 431,892 431,892 432,894 432,891 432,892 432,891 432,893 432,893 432,891 432,891 433,890 433,892 433,891 433,891 433,891 433,889 433,890 434,891 434,890 434,894 434,890 434,891 434,889 434,890 435,891 435,885 435,892 435,886 435,890 435,891 435,888 435,886 436,881 436,884 436,888 436,882 436,890 436,886 436,886 437,888 437,892 437,889 437,885 437,884 437,893 437,886 438,891 438,892 438,891 438,890 438,889 438,888 438,890 438,892 439,893 439,889 439,890 439,892 439,890 439,892 439,893 440,892 440,890 440,890 440,893 440,891 440,891 440,891 441,892 441,893 441,892 441,892 441,892 441,893 441,892 441,890 442,892 442,892 442,891 442,891 442,890 442,891 442,892 443,891 443,892 443,893 443,892 443,892 443,891 443,890 444,893 444,892 444,893 444,890 444,892 444,890 444,891 444,891 445,892 445,891 445,890 445,893 445,892 445,891 445,892 446,892 446,891 446,891 446,890 446,892 446,891 446,891 447,891 447,892 447,890 447,892 447,892 447,892 447,890 447,892 448,890 448,891 448,891 448,889 448,891 448,890 448,890 449,888 449,888 449,888 449,888 449,891 449,892 449,887 450,888 450,887 450,887 450,885 450,888 450,890 450,886 450,888 451,886 451,889 451,882 451,888 451,884 451,889 451,884 452,880 452,886 452,881 452,883 452,863 452,865 452,869 452,885 452,881 452,886 452,888 452,887 452,882 453,886 453,884 453,882 453,889 453,885 453,888 453,885 453,889 453,884 453,891 453,884 454,891 454,879 454,889 454,890 454,884 454,888 454,885 454,889 454,891 454,890 455,888 455,889 455,890 455,891 455,891 455,891 455,891 456,892 456,892 456,893 456,890 456,890 456,889 456,891 456,892 457,890 457,891 457,891 457,892 457,892 457,890 457,890 458,890 458,892 458,891 458,891 458,892 458,891 458,890 459,891 459,891 459,892 459,891 459,892 459,892 459,891 459,892 460,893 460,892 460,890 460,893 460,893 460,891 460,892 461,893 461,892 461,892 461,891 461,893 461,892 461,891 462,893 462,891 462,891 462,892 462,893 462,893 462,891 462,891 463,891 463,892 463,893 463,892 463,893 463,893 463,892 464,891 464,892 464,891 464,893 464,890 464,893 464,891 465,892 465,891 465,892 465,890 465,891 465,892 465,891 465,891 466,890 466,892 466,893 466,891 466,890 466,893 466,891 467,891 467,892 467,893 467,890 467,893 467,893 467,891 468,891 468,893 468,890 468,891 468,892 468,891 468,890 468,893 469,891 469,891 469,891 469,891 469,890 469,890 469,891 470,892 470,892 470,890 470,892 470,885 470,891 470,892 471,885 471,889 471,890 471,892 471,858 471,863 471,867 471,870 471,873 471,887 471,886 471,883 471,889 472,884 472,890 472,887 472,888 472,889 472,890 472,892 473,891 473,891 473,891 473,892 473,891 473,891 473,890 474,893 474,893 474,891 474,890 474,890 474,892 474,893 474,890 475,891 475,893 475,892 475,892 475,891 475,891 475,893 476,891 476,893 476,891 476,892 476,893 476,891 476,892 477,891 477,893 477,891 477,890 477,893 477,893 477,892 477,892 478,892 478,890 478,891 478,891 478,891 478,893 478,892 479,893 479,891 479,892 479,891 479,891 479,891 479,890 480,891 480,891 480,891 480,893 480,891 480,890 480,892 480,892 481,890 481,892 481,892 481,893 481,891 481,890 481,890 482,893 482,891 482,892 482,892 482,892 482,890 482,893 483,892 483,893 483,893 483,892 483,892 483,893 483,890 483,892 484,892 484,893 484,893 484,891 484,892 484,892 484,893 485,894 485,890 485,892 485,892 485,892 485,893 485,891 486,892 486,893 486,892 486,894 486,891 486,892 486,891 486,893 487,893 487,891 487,891 487,891 487,893 487,890 487,893 488,892 488,892 488,891 488,893 488,892 488,891 488,892 489,893 489,892 489,891 489,892 489,893 489,893 489,890 489,892 490,892 490,890 490,892 490,893 490,890 490,891 490,891 491,893 491,892 491,893 491,891 491,893 491,893 491,892 492,893 492,891 492,893 492,890 492,893 492,892 492,893 492,891 493,893 493,893 493,893 493,890 493,893 493,892 493,893 494,893 494,891 494,891 494,891 494,892 494,893 494,893 495,892 495,893 495,893 495,890 495,890 495,892 495,892 495,890 496,890 496,891 496,892 496,893 496,890 496,891 496,892 497,891 497,892 497,890 497,892 497,892 497,890 497,892 498,891 498,892 498,891 498,891 498,892 498,890 498,891 498,893 499,890 499,891 499,890 499,891 499,892 499,891 499,893 500,893 500,893 500,890 500,890 500,893 500,892 500,891 501,892 501,893 501,892 501,893 501,889 501,890 501,890 501,890 502,890 502,890 502,892 502,891 502,888 502,888 502,892 503,889 503,884 503,891 503,883 503,874 503,885 503,877 503,885 503,882 503,873 503,881 503,868 503,874 504,892 504,875 504,879 504,888 504,886 504,886 504,888 504,871 504,871 504,889 504,888 504,889 505,869 505,889 505,885 505,885 505,874 505,869 505,875 505,897 505,899 505,872 505,878 505,880 505,875 505,872 505,870 505,879 505,882 506,871 506,886 506,875 506,889 506,888 506,868 506,888 506,869 506,888 506,888 506,888 506,888 506,879 506,884 506,883 506,869 506,861 506,889 506,863 506,881 506,874 506,884 506,890 507,865 507,890 507,864 507,880 507,887 507,891 507,875 507,881 507,865 507,888 507,887 507,884 507,864 507,884 507,889 507,863 507,874 507,874 507,876 508,871 508,886 508,861 508,890 508,879 508,890 508,877 508,892 508,880 508,893 509,890 509,884 509,886 509,881 509,891 509,886 509,885 510,883 510,883 510,883 510,884 510,886 510,889 510,891 510,889 511,892 511,889 511,891 511,892 511,892 511,891 511,888 512,892 512,890 512,890 512,892 512,890 512,892 512,892 513,891 513,888 513,887 513,886 513,888 513,882 513,887 513,884 513,860 513,884 513,884 513,883 513,867 513,858 513,879 514,873 514,875 514,868 514,856 514,872 514,857 514,884 514,877 514,875 514,868 514,890 514,871 514,872 514,891 514,880 514,889 514,887 514,875 514,877 514,884 514,865 515,866 515,882 515,887 515,883 515,863 515,865 515,868 515,877 515,881 515,853 515,857 515,861 515,884 515,888 515,874 515,879 515,889 515,879 516,880 516,876 516,889 516,882 516,879 516,884 516,869 516,887 516,881 516,864 516,882 516,889 516,889 516,882 516,882 516,881 516,892 516,886 516,891 517,875 517,882 517,879 517,883 517,889 517,883 517,873 517,875 517,885 517,888 517,887 517,889 517,884 517,878 518,878 518,880 518,875 518,876 518,875 518,890 518,885 518,891 518,889 518,881 518,887 518,877 518,888 519,888 519,883 519,883 519,888 519,889 519,889 519,888 519,887 519,878 520,887 520,891 520,888 520,875 520,889 520,887 520,885 520,890 520,881 520,886 520,886 520,888 521,891 521,891 521,886 521,881 521,888 521,886 521,879 521,888 521,891 522,889 522,889 522,883 522,891 522,876 522,886 522,889 522,882 522,878 522,890 522,889 522,893 523,891 523,889 523,890 523,889 523,888 523,889 523,888 523,888 524,887 524,890 524,888 524,891 524,892 524,893 524,884 525,889 525,888 525,887 525,892 525,886 525,890 525,888 526,890 526,886 526,889 526,884 526,891 526,891 526,888 526,888 527,889 527,885 527,887 527,891 527,891 527,884 527,890 528,888 528,890 528,891 528,890 528,890 528,890 528,891 529,889 529,890 529,892 529,889 529,887 529,889 529,892 529,889 530,890 530,890 530,889 530,891 530,893 530,890 530,892 531,892 531,890 531,891 531,890 531,891 531,892 531,893 532,891 532,893 532,892 532,893 532,892 532,892 532,893 532,892 533,894 533,892 533,890 533,893 533,892 533,891 533,891 534,891 534,892 534,893 534,893 534,891 534,892 534,891 535,893 535,891 535,893 535,891 535,892 535,894 535,891 535,891 536,892 536,891 536,891 536,893 536,891 536,892 536,893 537,890 537,892 537,892 537,891 537,891 537,893 537,890 538,891 538,892 538,890 538,890 538,891 538,892 538,890 538,892 539,891 539,890 539,891 539,890 539,888 539,891 539,890 540,888 540,891 540,888 540,888 540,888 540,888 540,889 541,889 541,887 541,888 541,888 541,890 541,885 541,887 541,883 542,889 542,887 542,883 542,888 542,888 542,884 542,885 543,886 543,887 543,881 543,887 543,890 543,887 543,887 544,885 544,888 544,883 544,889 544,888 544,890 544,885 544,886 545,888 545,886 545,885 545,891 545,886 545,885 545,887 546,888 546,887 546,887 546,889 546,888 546,887 546,888 547,889 547,888 547,892 547,888 547,892 547,883 547,890 547,887 548,880 548,891 548,886 548,883 548,881 548,884 548,891 549,892 549,888 549,883 549,890 549,886 549,887 549,888 550,890 550,889 550,889 550,891 550,889 550,890 550,891 550,892 551,892 551,890 551,891 551,890 551,890 551,892 551,893 552,892 552,892 552,890 552,893 552,892 552,893 552,891 553,892 553,891 553,893 553,892 553,892 553,893 553,890 553,893 554,890 554,893 554,893 554,892 554,892 554,892 554,893 555,892 555,893 555,892 555,892 555,890 555,890 555,891 556,893 556,892 556,890 556,892 556,892 556,893 556,892 556,890 557,893 557,892 557,893 557,893 557,892 557,891 557,892 558,892 558,891 558,893 558,892 558,893 558,892 558,893 559,891 559,891 559,893 559,893 559,893 559,892 559,892 559,891 560,893 560,892 560,893 560,890 560,890 560,892 560,892 561,893 561,893 561,892 561,890 561,890 561,893 561,892 562,891 562,891 562,890 562,891 562,890 562,891 562,889 562,889 563,890 563,891 563,891 563,888 563,891 563,889 563,890 564,893 564,887 564,888 564,885 564,888 564,893 564,884 565,887 565,892 565,884 565,882 565,891 565,880 565,885 565,883 566,883 566,888 566,887 566,890 566,884 566,886 566,887 567,887 567,892 567,887 567,890 567,888 567,890 567,892 568,892 568,889 568,890 568,889 568,891 568,893 568,891 568,892 569,891 569,891 569,891 569,893 569,891 569,892 569,890 570,891 570,892 570,893 570,893 570,892 570,892 570,890 571,892 571,892 571,892 571,892 571,890 571,893 571,891 571,893 572,893 572,892 572,891 572,893 572,891 572,891 572,890 573,891 573,891 573,893 573,891 573,890 573,889 573,891 574,889 574,888 574,890 574,885 574,890 574,888 574,892 574,885 575,888 575,890 575,882 575,883 575,884 575,890 575,889 576,889 576,890 576,891 576,883 576,889 576,890 576,887 577,889 577,888 577,890 577,890 577,890 577,892 577,890 577,891 578,892 578,890 578,891 578,892 578,891 578,892 578,890 579,889 579,889 579,890 579,892 579,889 579,891 579,891 580,891 580,890 580,892 580,888 580,889 580,889 580,889 580,891 581,888 581,888 581,890 581,867 581,887 581,866 581,871 581,891 581,869 581,883 581,865 581,877 581,885 581,891 581,890 582,888 582,889 582,879 582,890 582,887 582,871 582,889 582,886 582,886 582,887 582,878 582,876 582,877 582,888 582,881 583,875 583,887 583,887 583,870 583,883 583,871 583,884 583,885 583,887 583,888 583,871 583,889 583,889 583,873 583,884 583,890 583,880 583,871 583,881 583,869 583,884 584,886 584,882 584,879 584,890 584,885 584,864 584,888 584,888 584,889 584,867 584,891 584,889 584,873 584,885 584,885 585,886 585,888 585,883 585,873 585,865 585,884 585,879 585,886 585,889 585,876 585,874 585,889 585,874 585,883 585,880 585,888 585,888 585,884 585,870 585,879 585,875 585,885 585,878 585,890 585,862 585,887 586,879 586,867 586,882 586,890 586,887 586,870 586,884 586,871 586,887 586,869 586,889 587,888 587,879 587,888 587,888 587,867 587,887 587,878 587,877 587,883 587,883 587,876 588,866 588,886 588,881 588,868 588,868 588,877 588,859 588,861 588,872 588,870 588,869 588,881 588,863 588,888 588,880 588,872 588,862 589,881 589,870 589,878 589,871 589,878 589,888 589,879 589,887 589,887 589,886 589,883 589,871 589,880 589,883 589,886 590,883 590,865 590,884 590,870 590,888 590,872 590,879 590,885 590,888 590,874 590,881 590,880 590,877 590,878 590,887 590,889 590,873 590,889 590,880 591,873 591,884 591,867 591,884 591,887 591,887 591,878 591,885 591,887 591,885 591,883 591,886 592,889 592,887 592,873 600,849 600,855" fill="none" stroke="none" marker-start="url(#mr)" marker-mid="url(#mr)" marker-end="url(#mr)" clip-path="url(#c6)"/>
</g>
</svg>
</body>
</html>
